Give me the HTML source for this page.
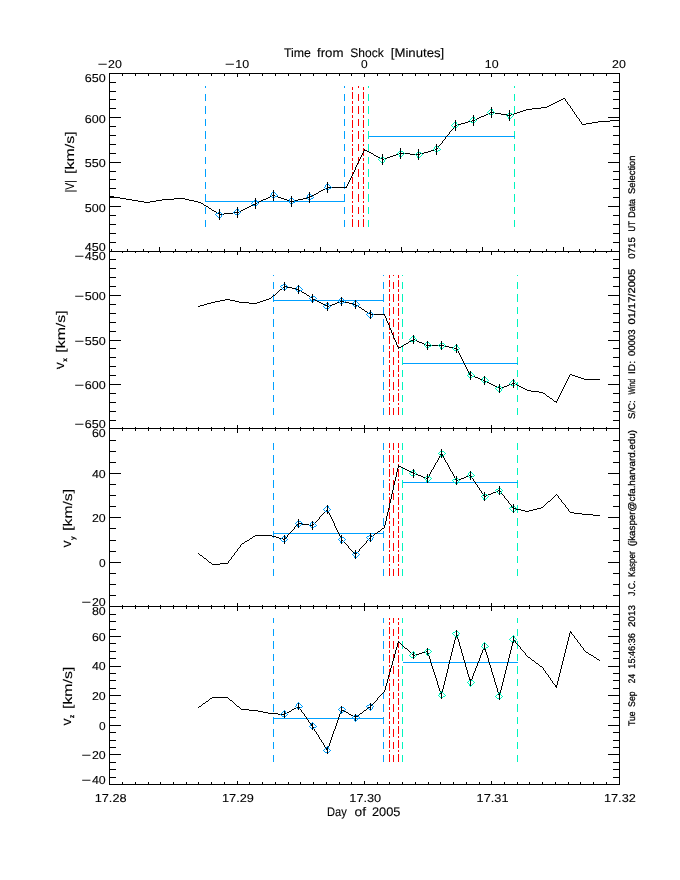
<!DOCTYPE html>
<html><head><meta charset="utf-8"><title>Shock velocity plot</title>
<style>html,body{margin:0;padding:0;background:#fff}svg{display:block;will-change:transform}text{white-space:pre;text-rendering:geometricPrecision}</style>
</head><body>
<svg width="680" height="880" viewBox="0 0 680 880">
<rect width="680" height="880" fill="#fff"/>
<g shape-rendering="crispEdges" stroke-width="1" fill="none">
<line x1="205.50" y1="227.00" x2="205.50" y2="86.00" stroke="#00A0FF" stroke-dasharray="7.5 5.1"/>
<line x1="344.50" y1="227.00" x2="344.50" y2="86.00" stroke="#00A0FF" stroke-dasharray="7.5 5.1"/>
<line x1="352.50" y1="227.00" x2="352.50" y2="86.00" stroke="#FF0000" stroke-dasharray="7.6 2 2.6 2"/>
<line x1="358.50" y1="227.00" x2="358.50" y2="86.00" stroke="#FF0000" stroke-dasharray="7.5 5.1"/>
<line x1="363.50" y1="227.00" x2="363.50" y2="86.00" stroke="#FF0000" stroke-dasharray="7.6 2 2.6 2"/>
<line x1="368.50" y1="227.00" x2="368.50" y2="86.00" stroke="#00F5BE" stroke-dasharray="7.5 5.1"/>
<line x1="514.50" y1="227.00" x2="514.50" y2="86.00" stroke="#00F5BE" stroke-dasharray="7.5 5.1"/>
<line x1="205.50" y1="201.50" x2="344.50" y2="201.50" stroke="#00A0FF" />
<line x1="368.50" y1="136.50" x2="514.50" y2="136.50" stroke="#00A0FF" />
<path d="M114 197h6v1h-6zM268 197h2v1h-2zM278 197h3v1h-3zM307 197h3v1h-3zM371 153h2v1h-2zM399 153h11v1h-11zM420 153h4v1h-4zM206 206h2v1h-2zM249 206h2v1h-2zM327 187h20v1h-20zM486 114h2v1h-2zM501 114h6v1h-6zM511 114h3v1h-3zM520 111h3v1h-3zM126 199h6v1h-6zM162 199h12v1h-12zM185 199h4v1h-4zM263 199h3v1h-3zM284 199h3v1h-3zM298 199h5v1h-5zM380 158h2v1h-2zM384 158h3v1h-3zM120 198h6v1h-6zM174 198h11v1h-11zM266 198h2v1h-2zM281 198h3v1h-3zM303 198h4v1h-4zM233 212h6v1h-6zM457 124h4v1h-4zM582 124h4v1h-4zM138 201h6v1h-6zM150 201h6v1h-6zM194 201h4v1h-4zM259 201h2v1h-2zM290 201h4v1h-4zM217 213h2v1h-2zM224 213h9v1h-9zM472 120h3v1h-3zM610 120h9v1h-9zM547 106h2v1h-2zM490 112h5v1h-5zM517 112h3v1h-3zM321 190h2v1h-2zM110 196h4v1h-4zM270 196h2v1h-2zM275 196h3v1h-3zM310 196h2v1h-2zM378 157h2v1h-2zM387 157h3v1h-3zM272 195h3v1h-3zM312 195h2v1h-2zM555 102h2v1h-2zM541 107h6v1h-6zM465 122h3v1h-3zM592 122h6v1h-6zM484 115h2v1h-2zM507 115h4v1h-4zM477 118h2v1h-2zM132 200h6v1h-6zM156 200h6v1h-6zM189 200h5v1h-5zM261 200h2v1h-2zM287 200h3v1h-3zM294 200h4v1h-4zM382 159h2v1h-2zM364 150h3v1h-3zM431 150h4v1h-4zM209 208h2v1h-2zM245 208h2v1h-2zM557 101h2v1h-2zM214 211h2v1h-2zM239 211h2v1h-2zM481 116h3v1h-3zM144 202h6v1h-6zM198 202h3v1h-3zM257 202h2v1h-2zM488 113h2v1h-2zM495 113h6v1h-6zM514 113h3v1h-3zM468 121h4v1h-4zM598 121h12v1h-12zM201 203h2v1h-2zM255 203h2v1h-2zM369 152h2v1h-2zM424 152h4v1h-4zM374 155h2v1h-2zM393 155h3v1h-3zM455 125h2v1h-2zM396 154h3v1h-3zM410 154h10v1h-10zM526 109h6v1h-6zM219 214h5v1h-5zM212 210h2v1h-2zM241 210h2v1h-2zM553 103h2v1h-2zM532 108h9v1h-9zM461 123h4v1h-4zM586 123h6v1h-6zM367 151h2v1h-2zM428 151h3v1h-3zM204 205h2v1h-2zM251 205h2v1h-2zM323 189h2v1h-2zM549 105h2v1h-2zM243 209h2v1h-2zM523 110h3v1h-3zM247 207h2v1h-2zM319 191h2v1h-2zM316 193h2v1h-2zM325 188h2v1h-2zM561 99h2v1h-2zM253 204h2v1h-2zM376 156h2v1h-2zM390 156h3v1h-3zM314 194h2v1h-2zM435 149h2v1h-2zM563 98h2v1h-2zM479 117h2v1h-2zM475 119h2v1h-2zM559 100h2v1h-2zM551 104h2v1h-2zM362 153h1v2h-1zM452 129h1v1h-1zM575 114h1v1h-1zM573 111h1v1h-1zM360 157h1v2h-1zM444 139h1v1h-1zM216 212h1v1h-1zM579 119h1v2h-1zM570 106h1v2h-1zM574 112h1v2h-1zM567 102h1v2h-1zM356 165h1v2h-1zM581 122h1v2h-1zM576 115h1v2h-1zM578 118h1v1h-1zM359 159h1v2h-1zM355 167h1v3h-1zM566 101h1v1h-1zM580 121h1v1h-1zM447 135h1v1h-1zM351 176h1v2h-1zM363 151h1v2h-1zM361 155h1v2h-1zM373 154h1v1h-1zM572 109h1v2h-1zM571 108h1v1h-1zM569 105h1v1h-1zM211 209h1v1h-1zM350 178h1v2h-1zM438 146h1v2h-1zM208 207h1v1h-1zM354 170h1v2h-1zM454 126h1v1h-1zM565 99h1v2h-1zM203 204h1v1h-1zM446 136h1v1h-1zM449 132h1v2h-1zM353 172h1v2h-1zM358 161h1v2h-1zM349 180h1v2h-1zM348 182h1v2h-1zM445 137h1v2h-1zM318 192h1v1h-1zM352 174h1v2h-1zM364 149h1v1h-1zM437 148h1v1h-1zM440 144h1v1h-1zM453 127h1v2h-1zM448 134h1v1h-1zM577 117h1v1h-1zM443 140h1v1h-1zM451 130h1v1h-1zM568 104h1v1h-1zM347 184h1v2h-1zM442 141h1v2h-1zM439 145h1v1h-1zM357 163h1v2h-1zM450 131h1v1h-1zM346 186h1v1h-1zM441 143h1v1h-1z" fill="#000" stroke="none"/>
<path d="M215 214h1v1h-1zM216 213h1v1h-1zM216 215h1v1h-1zM217 213h1v1h-1zM217 216h1v1h-1zM218 212h1v1h-1zM218 217h1v1h-1zM219 211h1v1h-1zM219 218h1v1h-1zM220 212h1v1h-1zM220 217h1v1h-1zM221 213h1v1h-1zM221 215h1v1h-1zM221 216h1v1h-1zM222 214h1v1h-1z" fill="#00A0FF" stroke="none"/>
<path d="M233 212h1v1h-1zM234 211h1v1h-1zM234 213h1v1h-1zM235 210h1v1h-1zM235 214h1v1h-1zM236 209h1v1h-1zM236 214h1v1h-1zM237 208h1v1h-1zM237 215h1v1h-1zM238 209h1v1h-1zM238 210h1v1h-1zM238 214h1v1h-1zM239 211h1v1h-1zM239 213h1v1h-1zM240 212h1v1h-1z" fill="#00A0FF" stroke="none"/>
<path d="M251 203h1v1h-1zM252 202h1v1h-1zM252 204h1v1h-1zM253 201h1v1h-1zM253 205h1v1h-1zM254 200h1v1h-1zM254 205h1v1h-1zM255 199h1v1h-1zM255 206h1v1h-1zM256 200h1v1h-1zM256 201h1v1h-1zM256 205h1v1h-1zM257 202h1v1h-1zM257 204h1v1h-1zM258 203h1v1h-1z" fill="#00A0FF" stroke="none"/>
<path d="M270 195h1v1h-1zM271 193h1v1h-1zM271 194h1v1h-1zM271 196h1v1h-1zM272 192h1v1h-1zM272 197h1v1h-1zM273 191h1v1h-1zM273 198h1v1h-1zM274 192h1v1h-1zM274 197h1v1h-1zM275 193h1v1h-1zM275 196h1v1h-1zM276 194h1v1h-1zM276 196h1v1h-1zM277 195h1v1h-1z" fill="#00A0FF" stroke="none"/>
<path d="M288 201h1v1h-1zM289 199h1v1h-1zM289 200h1v1h-1zM289 202h1v1h-1zM290 198h1v1h-1zM290 203h1v1h-1zM291 197h1v1h-1zM291 204h1v1h-1zM292 198h1v1h-1zM292 203h1v1h-1zM293 199h1v1h-1zM293 202h1v1h-1zM294 200h1v1h-1zM294 202h1v1h-1zM295 201h1v1h-1z" fill="#00A0FF" stroke="none"/>
<path d="M306 197h1v1h-1zM307 195h1v1h-1zM307 196h1v1h-1zM307 198h1v1h-1zM308 194h1v1h-1zM308 199h1v1h-1zM309 193h1v1h-1zM309 200h1v1h-1zM310 194h1v1h-1zM310 199h1v1h-1zM311 195h1v1h-1zM311 198h1v1h-1zM312 196h1v1h-1zM312 198h1v1h-1zM313 197h1v1h-1z" fill="#00A0FF" stroke="none"/>
<path d="M324 187h1v1h-1zM325 185h1v1h-1zM325 186h1v1h-1zM325 188h1v1h-1zM326 184h1v1h-1zM326 189h1v1h-1zM327 183h1v1h-1zM327 190h1v1h-1zM328 184h1v1h-1zM328 189h1v1h-1zM329 185h1v1h-1zM329 188h1v1h-1zM330 186h1v1h-1zM330 188h1v1h-1zM331 187h1v1h-1z" fill="#00A0FF" stroke="none"/>
<path d="M378 159h1v1h-1zM379 158h1v1h-1zM379 160h1v1h-1zM380 158h1v1h-1zM380 161h1v1h-1zM381 157h1v1h-1zM381 162h1v1h-1zM382 156h1v1h-1zM382 163h1v1h-1zM383 157h1v1h-1zM383 162h1v1h-1zM384 158h1v1h-1zM384 160h1v1h-1zM384 161h1v1h-1zM385 159h1v1h-1z" fill="#00F5BE" stroke="none"/>
<path d="M397 153h1v1h-1zM398 152h1v1h-1zM398 154h1v1h-1zM399 151h1v1h-1zM399 155h1v1h-1zM399 156h1v1h-1zM400 150h1v1h-1zM400 157h1v1h-1zM401 151h1v1h-1zM401 156h1v1h-1zM402 151h1v1h-1zM402 155h1v1h-1zM403 152h1v1h-1zM403 154h1v1h-1zM404 153h1v1h-1z" fill="#00F5BE" stroke="none"/>
<path d="M415 154h1v1h-1zM416 153h1v1h-1zM416 155h1v1h-1zM417 152h1v1h-1zM417 156h1v1h-1zM417 157h1v1h-1zM418 151h1v1h-1zM418 158h1v1h-1zM419 152h1v1h-1zM419 157h1v1h-1zM420 152h1v1h-1zM420 156h1v1h-1zM421 153h1v1h-1zM421 155h1v1h-1zM422 154h1v1h-1z" fill="#00F5BE" stroke="none"/>
<path d="M433 149h1v1h-1zM434 147h1v1h-1zM434 148h1v1h-1zM434 150h1v1h-1zM435 146h1v1h-1zM435 151h1v1h-1zM436 145h1v1h-1zM436 152h1v1h-1zM437 146h1v1h-1zM437 151h1v1h-1zM438 147h1v1h-1zM438 150h1v1h-1zM439 148h1v1h-1zM439 150h1v1h-1zM440 149h1v1h-1z" fill="#00F5BE" stroke="none"/>
<path d="M451 125h1v1h-1zM452 124h1v1h-1zM452 126h1v1h-1zM453 123h1v1h-1zM453 127h1v1h-1zM454 122h1v1h-1zM454 127h1v1h-1zM455 121h1v1h-1zM455 128h1v1h-1zM456 122h1v1h-1zM456 123h1v1h-1zM456 127h1v1h-1zM457 124h1v1h-1zM457 126h1v1h-1zM458 125h1v1h-1z" fill="#00F5BE" stroke="none"/>
<path d="M469 120h1v1h-1zM470 119h1v1h-1zM470 121h1v1h-1zM471 118h1v1h-1zM471 122h1v1h-1zM472 117h1v1h-1zM472 122h1v1h-1zM473 116h1v1h-1zM473 123h1v1h-1zM474 117h1v1h-1zM474 118h1v1h-1zM474 122h1v1h-1zM475 119h1v1h-1zM475 121h1v1h-1zM476 120h1v1h-1z" fill="#00F5BE" stroke="none"/>
<path d="M487 112h1v1h-1zM488 111h1v1h-1zM488 113h1v1h-1zM489 110h1v1h-1zM489 114h1v1h-1zM490 109h1v1h-1zM490 114h1v1h-1zM491 108h1v1h-1zM491 115h1v1h-1zM492 109h1v1h-1zM492 110h1v1h-1zM492 114h1v1h-1zM493 111h1v1h-1zM493 113h1v1h-1zM494 112h1v1h-1z" fill="#00F5BE" stroke="none"/>
<path d="M506 115h1v1h-1zM507 114h1v1h-1zM507 116h1v1h-1zM508 113h1v1h-1zM508 117h1v1h-1zM508 118h1v1h-1zM509 112h1v1h-1zM509 119h1v1h-1zM510 113h1v1h-1zM510 118h1v1h-1zM511 113h1v1h-1zM511 117h1v1h-1zM512 114h1v1h-1zM512 116h1v1h-1zM513 115h1v1h-1z" fill="#00F5BE" stroke="none"/>
<line x1="219.50" y1="208.70" x2="219.50" y2="220.30" stroke="#000" />
<line x1="237.50" y1="206.70" x2="237.50" y2="218.30" stroke="#000" />
<line x1="255.50" y1="197.70" x2="255.50" y2="209.30" stroke="#000" />
<line x1="273.50" y1="189.70" x2="273.50" y2="201.30" stroke="#000" />
<line x1="291.50" y1="195.70" x2="291.50" y2="207.30" stroke="#000" />
<line x1="309.50" y1="191.70" x2="309.50" y2="203.30" stroke="#000" />
<line x1="327.50" y1="181.70" x2="327.50" y2="193.30" stroke="#000" />
<line x1="382.50" y1="153.70" x2="382.50" y2="165.30" stroke="#000" />
<line x1="400.50" y1="147.70" x2="400.50" y2="159.30" stroke="#000" />
<line x1="418.50" y1="148.70" x2="418.50" y2="160.30" stroke="#000" />
<line x1="436.50" y1="143.70" x2="436.50" y2="155.30" stroke="#000" />
<line x1="455.50" y1="119.70" x2="455.50" y2="131.30" stroke="#000" />
<line x1="473.50" y1="114.70" x2="473.50" y2="126.30" stroke="#000" />
<line x1="491.50" y1="106.70" x2="491.50" y2="118.30" stroke="#000" />
<line x1="509.50" y1="109.70" x2="509.50" y2="121.30" stroke="#000" />
<line x1="273.50" y1="415.00" x2="273.50" y2="275.00" stroke="#00A0FF" stroke-dasharray="7.5 5.1"/>
<line x1="383.50" y1="415.00" x2="383.50" y2="275.00" stroke="#00A0FF" stroke-dasharray="7.5 5.1"/>
<line x1="389.00" y1="415.00" x2="389.00" y2="275.00" stroke="#FF0000" stroke-dasharray="7.6 2 2.6 2"/>
<line x1="393.50" y1="415.00" x2="393.50" y2="275.00" stroke="#FF0000" stroke-dasharray="7.5 5.1"/>
<line x1="398.50" y1="415.00" x2="398.50" y2="275.00" stroke="#FF0000" stroke-dasharray="7.6 2 2.6 2"/>
<line x1="402.50" y1="415.00" x2="402.50" y2="275.00" stroke="#00F5BE" stroke-dasharray="7.5 5.1"/>
<line x1="517.50" y1="415.00" x2="517.50" y2="275.00" stroke="#00F5BE" stroke-dasharray="7.5 5.1"/>
<line x1="273.50" y1="300.50" x2="383.50" y2="300.50" stroke="#00A0FF" />
<line x1="402.50" y1="363.50" x2="517.50" y2="363.50" stroke="#00A0FF" />
<path d="M207 303h4v1h-4zM249 303h8v1h-8zM321 303h2v1h-2zM335 303h2v1h-2zM349 303h4v1h-4zM411 340h2v1h-2zM415 340h2v1h-2zM478 378h2v1h-2zM581 378h3v1h-3zM370 314h15v1h-15zM215 301h5v1h-5zM235 301h4v1h-4zM260 301h3v1h-3zM317 301h2v1h-2zM340 301h4v1h-4zM220 300h5v1h-5zM230 300h5v1h-5zM263 300h3v1h-3zM315 300h2v1h-2zM200 305h4v1h-4zM325 305h2v1h-2zM329 305h3v1h-3zM356 305h2v1h-2zM554 401h3v1h-3zM550 398h2v1h-2zM225 299h5v1h-5zM266 299h3v1h-3zM313 299h2v1h-2zM204 304h3v1h-3zM323 304h2v1h-2zM332 304h3v1h-3zM353 304h3v1h-3zM398 347h3v1h-3zM449 347h5v1h-5zM480 379h3v1h-3zM584 379h16v1h-16zM419 342h3v1h-3zM211 302h4v1h-4zM239 302h10v1h-10zM257 302h3v1h-3zM319 302h2v1h-2zM337 302h3v1h-3zM344 302h5v1h-5zM475 377h3v1h-3zM578 377h3v1h-3zM287 287h5v1h-5zM426 345h18v1h-18zM292 288h4v1h-4zM401 346h2v1h-2zM444 346h5v1h-5zM491 384h2v1h-2zM509 384h3v1h-3zM515 384h2v1h-2zM302 292h2v1h-2zM470 375h2v1h-2zM572 375h3v1h-3zM299 290h2v1h-2zM472 376h3v1h-3zM575 376h3v1h-3zM497 387h2v1h-2zM501 387h3v1h-3zM521 387h2v1h-2zM499 388h2v1h-2zM523 388h2v1h-2zM527 390h4v1h-4zM368 313h2v1h-2zM531 391h8v1h-8zM280 289h2v1h-2zM296 289h3v1h-3zM493 385h2v1h-2zM507 385h2v1h-2zM517 385h2v1h-2zM409 341h2v1h-2zM417 341h2v1h-2zM406 343h2v1h-2zM422 343h2v1h-2zM485 381h2v1h-2zM413 339h2v1h-2zM495 386h2v1h-2zM504 386h3v1h-3zM519 386h2v1h-2zM198 306h2v1h-2zM327 306h2v1h-2zM404 344h2v1h-2zM424 344h2v1h-2zM489 383h2v1h-2zM512 383h3v1h-3zM304 293h2v1h-2zM273 295h2v1h-2zM307 295h2v1h-2zM454 348h3v1h-3zM362 309h2v1h-2zM539 392h4v1h-4zM365 311h2v1h-2zM284 286h3v1h-3zM525 389h2v1h-2zM269 298h2v1h-2zM310 297h2v1h-2zM483 380h2v1h-2zM570 374h2v1h-2zM487 382h2v1h-2zM547 396h2v1h-2zM359 307h2v1h-2zM543 393h2v1h-2zM395 340h1v2h-1zM393 335h1v3h-1zM546 395h1v1h-1zM559 395h1v2h-1zM568 377h1v2h-1zM389 325h1v3h-1zM464 363h1v2h-1zM558 397h1v2h-1zM385 316h1v2h-1zM386 318h1v3h-1zM567 379h1v2h-1zM396 342h1v3h-1zM408 342h1v1h-1zM275 294h1v1h-1zM306 294h1v1h-1zM283 287h1v1h-1zM397 345h1v2h-1zM403 345h1v1h-1zM467 369h1v2h-1zM282 288h1v1h-1zM565 383h1v2h-1zM277 292h1v1h-1zM569 375h1v2h-1zM279 290h1v1h-1zM392 333h1v2h-1zM563 387h1v2h-1zM549 397h1v1h-1zM272 296h1v1h-1zM309 296h1v1h-1zM562 389h1v2h-1zM561 391h1v2h-1zM564 385h1v2h-1zM566 381h1v2h-1zM394 338h1v2h-1zM463 361h1v2h-1zM466 367h1v2h-1zM358 306h1v1h-1zM460 355h1v2h-1zM276 293h1v1h-1zM391 330h1v3h-1zM553 400h1v1h-1zM557 399h1v2h-1zM398 348h1v1h-1zM545 394h1v1h-1zM560 393h1v2h-1zM384 315h1v1h-1zM459 353h1v2h-1zM361 308h1v1h-1zM462 359h1v2h-1zM312 298h1v1h-1zM390 328h1v2h-1zM278 291h1v1h-1zM301 291h1v1h-1zM271 297h1v1h-1zM458 351h1v2h-1zM461 357h1v2h-1zM469 373h1v2h-1zM457 349h1v2h-1zM367 312h1v1h-1zM552 399h1v1h-1zM388 323h1v2h-1zM556 402h1v1h-1zM387 321h1v2h-1zM364 310h1v1h-1zM468 371h1v2h-1zM465 365h1v2h-1z" fill="#000" stroke="none"/>
<path d="M280 286h1v1h-1zM281 285h1v1h-1zM281 287h1v1h-1zM282 285h1v1h-1zM282 288h1v1h-1zM283 284h1v1h-1zM283 289h1v1h-1zM284 283h1v1h-1zM284 290h1v1h-1zM285 284h1v1h-1zM285 289h1v1h-1zM286 285h1v1h-1zM286 287h1v1h-1zM286 288h1v1h-1zM287 286h1v1h-1z" fill="#00A0FF" stroke="none"/>
<path d="M295 289h1v1h-1zM296 287h1v1h-1zM296 288h1v1h-1zM296 290h1v1h-1zM297 286h1v1h-1zM297 291h1v1h-1zM298 285h1v1h-1zM298 292h1v1h-1zM299 286h1v1h-1zM299 291h1v1h-1zM300 287h1v1h-1zM300 290h1v1h-1zM301 288h1v1h-1zM301 290h1v1h-1zM302 289h1v1h-1z" fill="#00A0FF" stroke="none"/>
<path d="M309 298h1v1h-1zM310 297h1v1h-1zM310 299h1v1h-1zM311 296h1v1h-1zM311 300h1v1h-1zM311 301h1v1h-1zM312 295h1v1h-1zM312 302h1v1h-1zM313 296h1v1h-1zM313 301h1v1h-1zM314 296h1v1h-1zM314 300h1v1h-1zM315 297h1v1h-1zM315 299h1v1h-1zM316 298h1v1h-1z" fill="#00A0FF" stroke="none"/>
<path d="M323 306h1v1h-1zM324 305h1v1h-1zM324 307h1v1h-1zM325 304h1v1h-1zM325 308h1v1h-1zM326 303h1v1h-1zM326 308h1v1h-1zM327 302h1v1h-1zM327 309h1v1h-1zM328 303h1v1h-1zM328 304h1v1h-1zM328 308h1v1h-1zM329 305h1v1h-1zM329 307h1v1h-1zM330 306h1v1h-1z" fill="#00A0FF" stroke="none"/>
<path d="M338 301h1v1h-1zM339 299h1v1h-1zM339 300h1v1h-1zM339 302h1v1h-1zM340 298h1v1h-1zM340 303h1v1h-1zM341 297h1v1h-1zM341 304h1v1h-1zM342 298h1v1h-1zM342 303h1v1h-1zM343 299h1v1h-1zM343 302h1v1h-1zM344 300h1v1h-1zM344 302h1v1h-1zM345 301h1v1h-1z" fill="#00A0FF" stroke="none"/>
<path d="M352 304h1v1h-1zM353 302h1v1h-1zM353 303h1v1h-1zM353 305h1v1h-1zM354 301h1v1h-1zM354 306h1v1h-1zM355 300h1v1h-1zM355 307h1v1h-1zM356 301h1v1h-1zM356 306h1v1h-1zM357 302h1v1h-1zM357 305h1v1h-1zM358 303h1v1h-1zM358 305h1v1h-1zM359 304h1v1h-1z" fill="#00A0FF" stroke="none"/>
<path d="M366 314h1v1h-1zM367 313h1v1h-1zM367 315h1v1h-1zM368 313h1v1h-1zM368 316h1v1h-1zM369 312h1v1h-1zM369 317h1v1h-1zM370 311h1v1h-1zM370 318h1v1h-1zM371 312h1v1h-1zM371 317h1v1h-1zM372 313h1v1h-1zM372 315h1v1h-1zM372 316h1v1h-1zM373 314h1v1h-1z" fill="#00A0FF" stroke="none"/>
<path d="M409 339h1v1h-1zM410 338h1v1h-1zM410 340h1v1h-1zM411 337h1v1h-1zM411 341h1v1h-1zM412 336h1v1h-1zM412 341h1v1h-1zM413 335h1v1h-1zM413 342h1v1h-1zM414 336h1v1h-1zM414 337h1v1h-1zM414 341h1v1h-1zM415 338h1v1h-1zM415 340h1v1h-1zM416 339h1v1h-1z" fill="#00F5BE" stroke="none"/>
<path d="M424 345h1v1h-1zM425 343h1v1h-1zM425 344h1v1h-1zM425 346h1v1h-1zM426 342h1v1h-1zM426 347h1v1h-1zM427 341h1v1h-1zM427 348h1v1h-1zM428 342h1v1h-1zM428 347h1v1h-1zM429 343h1v1h-1zM429 346h1v1h-1zM430 344h1v1h-1zM430 346h1v1h-1zM431 345h1v1h-1z" fill="#00F5BE" stroke="none"/>
<path d="M438 345h1v1h-1zM439 344h1v1h-1zM439 346h1v1h-1zM440 343h1v1h-1zM440 347h1v1h-1zM440 348h1v1h-1zM441 342h1v1h-1zM441 349h1v1h-1zM442 343h1v1h-1zM442 348h1v1h-1zM443 343h1v1h-1zM443 347h1v1h-1zM444 344h1v1h-1zM444 346h1v1h-1zM445 345h1v1h-1z" fill="#00F5BE" stroke="none"/>
<path d="M452 348h1v1h-1zM453 347h1v1h-1zM453 349h1v1h-1zM454 346h1v1h-1zM454 350h1v1h-1zM455 345h1v1h-1zM455 350h1v1h-1zM456 344h1v1h-1zM456 351h1v1h-1zM457 345h1v1h-1zM457 346h1v1h-1zM457 350h1v1h-1zM458 347h1v1h-1zM458 349h1v1h-1zM459 348h1v1h-1z" fill="#00F5BE" stroke="none"/>
<path d="M467 375h1v1h-1zM468 373h1v1h-1zM468 374h1v1h-1zM468 376h1v1h-1zM469 372h1v1h-1zM469 377h1v1h-1zM470 371h1v1h-1zM470 378h1v1h-1zM471 372h1v1h-1zM471 377h1v1h-1zM472 373h1v1h-1zM472 376h1v1h-1zM473 374h1v1h-1zM473 376h1v1h-1zM474 375h1v1h-1z" fill="#00F5BE" stroke="none"/>
<path d="M481 380h1v1h-1zM482 378h1v1h-1zM482 379h1v1h-1zM482 381h1v1h-1zM483 377h1v1h-1zM483 382h1v1h-1zM484 376h1v1h-1zM484 383h1v1h-1zM485 377h1v1h-1zM485 382h1v1h-1zM486 378h1v1h-1zM486 381h1v1h-1zM487 379h1v1h-1zM487 381h1v1h-1zM488 380h1v1h-1z" fill="#00F5BE" stroke="none"/>
<path d="M495 388h1v1h-1zM496 387h1v1h-1zM496 389h1v1h-1zM497 387h1v1h-1zM497 390h1v1h-1zM498 386h1v1h-1zM498 391h1v1h-1zM499 385h1v1h-1zM499 392h1v1h-1zM500 386h1v1h-1zM500 391h1v1h-1zM501 387h1v1h-1zM501 389h1v1h-1zM501 390h1v1h-1zM502 388h1v1h-1z" fill="#00F5BE" stroke="none"/>
<path d="M509 383h1v1h-1zM510 382h1v1h-1zM510 384h1v1h-1zM511 381h1v1h-1zM511 385h1v1h-1zM512 380h1v1h-1zM512 385h1v1h-1zM513 379h1v1h-1zM513 386h1v1h-1zM514 380h1v1h-1zM514 381h1v1h-1zM514 385h1v1h-1zM515 382h1v1h-1zM515 384h1v1h-1zM516 383h1v1h-1z" fill="#00F5BE" stroke="none"/>
<line x1="284.50" y1="282.00" x2="284.50" y2="291.00" stroke="#000" />
<line x1="298.50" y1="285.00" x2="298.50" y2="294.00" stroke="#000" />
<line x1="312.50" y1="294.00" x2="312.50" y2="303.00" stroke="#000" />
<line x1="327.50" y1="302.00" x2="327.50" y2="311.00" stroke="#000" />
<line x1="341.50" y1="297.00" x2="341.50" y2="306.00" stroke="#000" />
<line x1="355.50" y1="300.00" x2="355.50" y2="309.00" stroke="#000" />
<line x1="370.50" y1="310.00" x2="370.50" y2="319.00" stroke="#000" />
<line x1="413.50" y1="335.00" x2="413.50" y2="344.00" stroke="#000" />
<line x1="427.50" y1="341.00" x2="427.50" y2="350.00" stroke="#000" />
<line x1="441.50" y1="341.00" x2="441.50" y2="350.00" stroke="#000" />
<line x1="456.50" y1="344.00" x2="456.50" y2="353.00" stroke="#000" />
<line x1="470.50" y1="371.00" x2="470.50" y2="380.00" stroke="#000" />
<line x1="484.50" y1="376.00" x2="484.50" y2="385.00" stroke="#000" />
<line x1="499.50" y1="384.00" x2="499.50" y2="393.00" stroke="#000" />
<line x1="513.50" y1="379.00" x2="513.50" y2="388.00" stroke="#000" />
<line x1="273.50" y1="576.00" x2="273.50" y2="443.00" stroke="#00A0FF" stroke-dasharray="7.5 5.1"/>
<line x1="383.50" y1="576.00" x2="383.50" y2="443.00" stroke="#00A0FF" stroke-dasharray="7.5 5.1"/>
<line x1="389.00" y1="576.00" x2="389.00" y2="443.00" stroke="#FF0000" stroke-dasharray="7.6 2 2.6 2"/>
<line x1="393.50" y1="576.00" x2="393.50" y2="443.00" stroke="#FF0000" stroke-dasharray="7.5 5.1"/>
<line x1="398.50" y1="576.00" x2="398.50" y2="443.00" stroke="#FF0000" stroke-dasharray="7.6 2 2.6 2"/>
<line x1="402.50" y1="576.00" x2="402.50" y2="443.00" stroke="#00F5BE" stroke-dasharray="7.5 5.1"/>
<line x1="517.50" y1="576.00" x2="517.50" y2="443.00" stroke="#00F5BE" stroke-dasharray="7.5 5.1"/>
<line x1="273.50" y1="533.50" x2="383.50" y2="533.50" stroke="#00A0FF" />
<line x1="402.50" y1="482.50" x2="517.50" y2="482.50" stroke="#00A0FF" />
<path d="M491 493h2v1h-2zM423 477h3v1h-3zM464 477h2v1h-2zM403 468h2v1h-2zM204 558h2v1h-2zM309 525h4v1h-4zM593 515h7v1h-7zM407 470h2v1h-2zM513 508h3v1h-3zM537 508h4v1h-4zM302 524h7v1h-7zM255 535h17v1h-17zM488 494h3v1h-3zM378 531h2v1h-2zM253 536h2v1h-2zM272 536h4v1h-4zM371 536h2v1h-2zM574 513h8v1h-8zM245 541h2v1h-2zM382 528h2v1h-2zM276 537h3v1h-3zM421 476h2v1h-2zM466 476h3v1h-3zM250 538h2v1h-2zM279 538h4v1h-4zM418 475h3v1h-3zM469 475h2v1h-2zM486 495h2v1h-2zM212 564h8v1h-8zM516 509h5v1h-5zM533 509h4v1h-4zM458 479h3v1h-3zM493 492h3v1h-3zM548 501h2v1h-2zM413 473h2v1h-2zM570 512h4v1h-4zM582 514h11v1h-11zM220 563h8v1h-8zM326 510h2v1h-2zM521 510h4v1h-4zM529 510h4v1h-4zM298 523h4v1h-4zM375 533h2v1h-2zM484 496h2v1h-2zM242 543h2v1h-2zM398 466h3v1h-3zM283 539h2v1h-2zM200 555h2v1h-2zM456 480h2v1h-2zM415 474h3v1h-3zM426 478h2v1h-2zM461 478h3v1h-3zM496 491h2v1h-2zM401 467h2v1h-2zM498 490h2v1h-2zM409 471h2v1h-2zM209 562h2v1h-2zM411 472h2v1h-2zM525 511h4v1h-4zM405 469h2v1h-2zM541 507h2v1h-2zM247 540h2v1h-2zM392 490h1v4h-1zM482 493h1v1h-1zM501 492h1v2h-1zM395 477h1v4h-1zM428 476h1v2h-1zM454 476h1v2h-1zM471 476h1v2h-1zM397 468h1v4h-1zM433 467h1v2h-1zM449 467h1v2h-1zM203 557h1v1h-1zM231 557h1v2h-1zM296 525h1v1h-1zM334 523h1v3h-1zM384 525h1v3h-1zM321 515h1v1h-1zM330 515h1v2h-1zM387 512h1v4h-1zM431 470h1v2h-1zM450 469h1v2h-1zM388 508h1v4h-1zM567 508h1v1h-1zM297 524h1v1h-1zM313 524h1v1h-1zM385 521h1v4h-1zM287 535h1v2h-1zM339 534h1v2h-1zM373 535h1v1h-1zM391 494h1v5h-1zM483 494h1v2h-1zM502 494h1v1h-1zM556 494h1v1h-1zM291 531h1v1h-1zM337 530h1v2h-1zM505 498h1v1h-1zM552 498h1v1h-1zM559 498h1v1h-1zM340 536h1v2h-1zM323 513h1v1h-1zM329 513h1v2h-1zM343 541h1v1h-1zM366 541h1v2h-1zM294 527h1v2h-1zM336 528h1v2h-1zM390 499h1v4h-1zM506 499h1v1h-1zM551 499h1v1h-1zM560 499h1v1h-1zM252 537h1v1h-1zM286 537h1v1h-1zM370 537h1v1h-1zM396 472h1v5h-1zM439 456h1v2h-1zM443 456h1v2h-1zM285 538h1v1h-1zM341 538h1v2h-1zM369 538h1v1h-1zM429 474h1v2h-1zM453 474h1v2h-1zM503 495h1v1h-1zM555 495h1v1h-1zM557 495h1v1h-1zM198 553h1v1h-1zM234 553h1v2h-1zM354 553h1v1h-1zM356 553h1v1h-1zM327 509h1v1h-1zM568 509h1v2h-1zM239 547h1v1h-1zM348 546h1v2h-1zM361 547h1v1h-1zM455 478h1v2h-1zM473 479h1v2h-1zM481 491h1v2h-1zM438 458h1v2h-1zM444 458h1v2h-1zM508 501h1v2h-1zM561 500h1v2h-1zM315 522h1v1h-1zM333 521h1v2h-1zM430 472h1v2h-1zM452 472h1v2h-1zM238 548h1v1h-1zM349 548h1v1h-1zM360 548h1v1h-1zM324 512h1v1h-1zM328 511h1v2h-1zM322 514h1v1h-1zM211 563h1v1h-1zM314 523h1v1h-1zM289 533h1v1h-1zM338 532h1v2h-1zM504 496h1v2h-1zM554 496h1v1h-1zM558 496h1v2h-1zM199 554h1v1h-1zM355 554h1v1h-1zM345 543h1v1h-1zM365 543h1v1h-1zM434 465h1v2h-1zM448 465h1v2h-1zM249 539h1v1h-1zM368 539h1v1h-1zM233 555h1v1h-1zM237 549h1v2h-1zM350 549h1v1h-1zM359 549h1v2h-1zM240 545h1v2h-1zM347 545h1v1h-1zM363 545h1v1h-1zM318 519h1v1h-1zM332 519h1v2h-1zM386 516h1v5h-1zM292 530h1v1h-1zM380 530h1v1h-1zM295 526h1v1h-1zM335 526h1v2h-1zM437 460h1v2h-1zM445 460h1v2h-1zM362 546h1v1h-1zM472 478h1v1h-1zM436 462h1v1h-1zM446 462h1v1h-1zM500 491h1v1h-1zM320 516h1v1h-1zM398 465h1v1h-1zM398 467h1v1h-1zM316 521h1v1h-1zM480 490h1v1h-1zM547 502h1v1h-1zM562 502h1v1h-1zM553 497h1v1h-1zM451 471h1v1h-1zM206 559h1v1h-1zM230 559h1v1h-1zM228 561h1v2h-1zM319 517h1v2h-1zM331 517h1v2h-1zM389 503h1v5h-1zM509 503h1v1h-1zM546 503h1v1h-1zM563 503h1v1h-1zM507 500h1v1h-1zM550 500h1v1h-1zM236 551h1v1h-1zM352 551h1v1h-1zM358 551h1v1h-1zM325 511h1v1h-1zM569 511h1v1h-1zM288 534h1v1h-1zM374 534h1v1h-1zM441 453h1v1h-1zM511 505h1v2h-1zM544 505h1v1h-1zM565 505h1v2h-1zM235 552h1v1h-1zM353 552h1v1h-1zM357 552h1v1h-1zM394 481h1v4h-1zM474 481h1v1h-1zM435 463h1v2h-1zM447 463h1v2h-1zM476 484h1v1h-1zM393 485h1v5h-1zM479 488h1v2h-1zM477 485h1v2h-1zM432 469h1v1h-1zM440 454h1v2h-1zM442 454h1v2h-1zM512 507h1v1h-1zM566 507h1v1h-1zM510 504h1v1h-1zM545 504h1v1h-1zM564 504h1v1h-1zM342 540h1v1h-1zM367 540h1v1h-1zM478 487h1v1h-1zM241 544h1v1h-1zM346 544h1v1h-1zM364 544h1v1h-1zM475 482h1v2h-1zM290 532h1v1h-1zM377 532h1v1h-1zM543 506h1v1h-1zM351 550h1v1h-1zM207 560h1v1h-1zM229 560h1v1h-1zM293 529h1v1h-1zM381 529h1v1h-1zM244 542h1v1h-1zM344 542h1v1h-1zM317 520h1v1h-1zM202 556h1v1h-1zM232 556h1v1h-1zM208 561h1v1h-1z" fill="#000" stroke="none"/>
<path d="M280 539h1v1h-1zM281 538h1v1h-1zM281 540h1v1h-1zM282 537h1v1h-1zM282 541h1v1h-1zM283 536h1v1h-1zM283 541h1v1h-1zM284 535h1v1h-1zM284 542h1v1h-1zM285 536h1v1h-1zM285 537h1v1h-1zM285 541h1v1h-1zM286 538h1v1h-1zM286 540h1v1h-1zM287 539h1v1h-1z" fill="#00A0FF" stroke="none"/>
<path d="M295 523h1v1h-1zM296 522h1v1h-1zM296 524h1v1h-1zM297 521h1v1h-1zM297 525h1v1h-1zM297 526h1v1h-1zM298 520h1v1h-1zM298 527h1v1h-1zM299 521h1v1h-1zM299 526h1v1h-1zM300 521h1v1h-1zM300 525h1v1h-1zM301 522h1v1h-1zM301 524h1v1h-1zM302 523h1v1h-1z" fill="#00A0FF" stroke="none"/>
<path d="M309 525h1v1h-1zM310 523h1v1h-1zM310 524h1v1h-1zM310 526h1v1h-1zM311 522h1v1h-1zM311 527h1v1h-1zM312 521h1v1h-1zM312 528h1v1h-1zM313 522h1v1h-1zM313 527h1v1h-1zM314 523h1v1h-1zM314 526h1v1h-1zM315 524h1v1h-1zM315 526h1v1h-1zM316 525h1v1h-1z" fill="#00A0FF" stroke="none"/>
<path d="M323 509h1v1h-1zM324 508h1v1h-1zM324 510h1v1h-1zM325 507h1v1h-1zM325 511h1v1h-1zM326 506h1v1h-1zM326 511h1v1h-1zM327 505h1v1h-1zM327 512h1v1h-1zM328 506h1v1h-1zM328 507h1v1h-1zM328 511h1v1h-1zM329 508h1v1h-1zM329 510h1v1h-1zM330 509h1v1h-1z" fill="#00A0FF" stroke="none"/>
<path d="M338 539h1v1h-1zM339 538h1v1h-1zM339 540h1v1h-1zM340 537h1v1h-1zM340 541h1v1h-1zM340 542h1v1h-1zM341 536h1v1h-1zM341 543h1v1h-1zM342 537h1v1h-1zM342 542h1v1h-1zM343 537h1v1h-1zM343 541h1v1h-1zM344 538h1v1h-1zM344 540h1v1h-1zM345 539h1v1h-1z" fill="#00A0FF" stroke="none"/>
<path d="M352 554h1v1h-1zM353 553h1v1h-1zM353 555h1v1h-1zM354 552h1v1h-1zM354 556h1v1h-1zM354 557h1v1h-1zM355 551h1v1h-1zM355 558h1v1h-1zM356 552h1v1h-1zM356 557h1v1h-1zM357 552h1v1h-1zM357 556h1v1h-1zM358 553h1v1h-1zM358 555h1v1h-1zM359 554h1v1h-1z" fill="#00A0FF" stroke="none"/>
<path d="M366 537h1v1h-1zM367 536h1v1h-1zM367 538h1v1h-1zM368 536h1v1h-1zM368 539h1v1h-1zM369 535h1v1h-1zM369 540h1v1h-1zM370 534h1v1h-1zM370 541h1v1h-1zM371 535h1v1h-1zM371 540h1v1h-1zM372 536h1v1h-1zM372 538h1v1h-1zM372 539h1v1h-1zM373 537h1v1h-1z" fill="#00A0FF" stroke="none"/>
<path d="M409 473h1v1h-1zM410 472h1v1h-1zM410 474h1v1h-1zM411 471h1v1h-1zM411 475h1v1h-1zM412 470h1v1h-1zM412 475h1v1h-1zM413 469h1v1h-1zM413 476h1v1h-1zM414 470h1v1h-1zM414 471h1v1h-1zM414 475h1v1h-1zM415 472h1v1h-1zM415 474h1v1h-1zM416 473h1v1h-1z" fill="#00F5BE" stroke="none"/>
<path d="M424 478h1v1h-1zM425 477h1v1h-1zM425 479h1v1h-1zM426 476h1v1h-1zM426 480h1v1h-1zM426 481h1v1h-1zM427 475h1v1h-1zM427 482h1v1h-1zM428 476h1v1h-1zM428 481h1v1h-1zM429 476h1v1h-1zM429 480h1v1h-1zM430 477h1v1h-1zM430 479h1v1h-1zM431 478h1v1h-1z" fill="#00F5BE" stroke="none"/>
<path d="M438 453h1v1h-1zM439 452h1v1h-1zM439 454h1v1h-1zM440 451h1v1h-1zM440 455h1v1h-1zM440 456h1v1h-1zM441 450h1v1h-1zM441 457h1v1h-1zM442 451h1v1h-1zM442 456h1v1h-1zM443 451h1v1h-1zM443 455h1v1h-1zM444 452h1v1h-1zM444 454h1v1h-1zM445 453h1v1h-1z" fill="#00F5BE" stroke="none"/>
<path d="M452 480h1v1h-1zM453 479h1v1h-1zM453 481h1v1h-1zM454 479h1v1h-1zM454 482h1v1h-1zM455 478h1v1h-1zM455 483h1v1h-1zM456 477h1v1h-1zM456 484h1v1h-1zM457 478h1v1h-1zM457 483h1v1h-1zM458 479h1v1h-1zM458 481h1v1h-1zM458 482h1v1h-1zM459 480h1v1h-1z" fill="#00F5BE" stroke="none"/>
<path d="M467 475h1v1h-1zM468 473h1v1h-1zM468 474h1v1h-1zM468 476h1v1h-1zM469 472h1v1h-1zM469 477h1v1h-1zM470 471h1v1h-1zM470 478h1v1h-1zM471 472h1v1h-1zM471 477h1v1h-1zM472 473h1v1h-1zM472 476h1v1h-1zM473 474h1v1h-1zM473 476h1v1h-1zM474 475h1v1h-1z" fill="#00F5BE" stroke="none"/>
<path d="M481 496h1v1h-1zM482 495h1v1h-1zM482 497h1v1h-1zM483 494h1v1h-1zM483 498h1v1h-1zM483 499h1v1h-1zM484 493h1v1h-1zM484 500h1v1h-1zM485 494h1v1h-1zM485 499h1v1h-1zM486 494h1v1h-1zM486 498h1v1h-1zM487 495h1v1h-1zM487 497h1v1h-1zM488 496h1v1h-1z" fill="#00F5BE" stroke="none"/>
<path d="M495 490h1v1h-1zM496 489h1v1h-1zM496 491h1v1h-1zM497 489h1v1h-1zM497 492h1v1h-1zM498 488h1v1h-1zM498 493h1v1h-1zM499 487h1v1h-1zM499 494h1v1h-1zM500 488h1v1h-1zM500 493h1v1h-1zM501 489h1v1h-1zM501 491h1v1h-1zM501 492h1v1h-1zM502 490h1v1h-1z" fill="#00F5BE" stroke="none"/>
<path d="M509 508h1v1h-1zM510 507h1v1h-1zM510 509h1v1h-1zM511 507h1v1h-1zM511 510h1v1h-1zM512 506h1v1h-1zM512 511h1v1h-1zM513 505h1v1h-1zM513 512h1v1h-1zM514 506h1v1h-1zM514 511h1v1h-1zM515 507h1v1h-1zM515 509h1v1h-1zM515 510h1v1h-1zM516 508h1v1h-1z" fill="#00F5BE" stroke="none"/>
<line x1="284.50" y1="535.00" x2="284.50" y2="544.00" stroke="#000" />
<line x1="298.50" y1="519.00" x2="298.50" y2="528.00" stroke="#000" />
<line x1="312.50" y1="521.00" x2="312.50" y2="530.00" stroke="#000" />
<line x1="327.50" y1="505.00" x2="327.50" y2="514.00" stroke="#000" />
<line x1="341.50" y1="535.00" x2="341.50" y2="544.00" stroke="#000" />
<line x1="355.50" y1="550.00" x2="355.50" y2="559.00" stroke="#000" />
<line x1="370.50" y1="533.00" x2="370.50" y2="542.00" stroke="#000" />
<line x1="413.50" y1="469.00" x2="413.50" y2="478.00" stroke="#000" />
<line x1="427.50" y1="474.00" x2="427.50" y2="483.00" stroke="#000" />
<line x1="441.50" y1="449.00" x2="441.50" y2="458.00" stroke="#000" />
<line x1="456.50" y1="476.00" x2="456.50" y2="485.00" stroke="#000" />
<line x1="470.50" y1="471.00" x2="470.50" y2="480.00" stroke="#000" />
<line x1="484.50" y1="492.00" x2="484.50" y2="501.00" stroke="#000" />
<line x1="499.50" y1="486.00" x2="499.50" y2="495.00" stroke="#000" />
<line x1="513.50" y1="504.00" x2="513.50" y2="513.00" stroke="#000" />
<line x1="273.50" y1="762.00" x2="273.50" y2="618.00" stroke="#00A0FF" stroke-dasharray="7.5 5.1"/>
<line x1="383.50" y1="762.00" x2="383.50" y2="618.00" stroke="#00A0FF" stroke-dasharray="7.5 5.1"/>
<line x1="389.00" y1="762.00" x2="389.00" y2="618.00" stroke="#FF0000" stroke-dasharray="7.6 2 2.6 2"/>
<line x1="393.50" y1="762.00" x2="393.50" y2="618.00" stroke="#FF0000" stroke-dasharray="7.5 5.1"/>
<line x1="398.50" y1="762.00" x2="398.50" y2="618.00" stroke="#FF0000" stroke-dasharray="7.6 2 2.6 2"/>
<line x1="402.50" y1="762.00" x2="402.50" y2="618.00" stroke="#00F5BE" stroke-dasharray="7.5 5.1"/>
<line x1="517.50" y1="762.00" x2="517.50" y2="618.00" stroke="#00F5BE" stroke-dasharray="7.5 5.1"/>
<line x1="273.50" y1="718.50" x2="383.50" y2="718.50" stroke="#00A0FF" />
<line x1="402.50" y1="662.50" x2="517.50" y2="662.50" stroke="#00A0FF" />
<path d="M278 714h7v1h-7zM349 714h2v1h-2zM597 659h2v1h-2zM268 713h10v1h-10zM285 713h2v1h-2zM360 713h2v1h-2zM212 697h16v1h-16zM326 749h2v1h-2zM513 640h2v1h-2zM540 666h2v1h-2zM249 710h9v1h-9zM341 710h3v1h-3zM364 710h2v1h-2zM230 700h2v1h-2zM241 709h8v1h-8zM292 709h2v1h-2zM422 652h4v1h-4zM586 652h2v1h-2zM413 655h2v1h-2zM591 655h2v1h-2zM263 712h5v1h-5zM287 712h2v1h-2zM346 712h2v1h-2zM415 654h4v1h-4zM589 654h2v1h-2zM199 706h2v1h-2zM237 706h2v1h-2zM398 642h2v1h-2zM528 657h2v1h-2zM594 657h2v1h-2zM419 653h3v1h-3zM210 698h2v1h-2zM353 716h2v1h-2zM356 716h2v1h-2zM570 632h2v1h-2zM555 686h2v1h-2zM351 715h2v1h-2zM440 693h2v1h-2zM426 651h2v1h-2zM206 701h2v1h-2zM555 685h2v1h-2zM456 635h2v1h-2zM296 707h2v1h-2zM368 707h2v1h-2zM405 648h2v1h-2zM258 711h5v1h-5zM289 711h2v1h-2zM344 711h2v1h-2zM532 660h2v1h-2zM536 663h2v1h-2zM498 694h2v1h-2zM294 708h2v1h-2zM203 703h2v1h-2zM304 714h1v2h-1zM339 714h1v3h-1zM359 714h1v1h-1zM386 683h1v3h-1zM437 681h1v4h-1zM444 681h1v4h-1zM495 682h1v3h-1zM502 682h1v4h-1zM553 683h1v1h-1zM557 681h1v4h-1zM387 679h1v4h-1zM436 678h1v3h-1zM445 677h1v4h-1zM469 677h1v4h-1zM471 679h1v2h-1zM494 678h1v4h-1zM503 678h1v4h-1zM550 678h1v2h-1zM558 677h1v4h-1zM397 643h1v4h-1zM403 646h1v1h-1zM453 644h1v4h-1zM460 646h1v3h-1zM484 646h1v2h-1zM511 646h1v4h-1zM519 646h1v1h-1zM566 645h1v4h-1zM581 646h1v1h-1zM393 658h1v3h-1zM430 659h1v4h-1zM450 656h1v4h-1zM463 656h1v4h-1zM479 658h1v3h-1zM488 658h1v4h-1zM508 658h1v4h-1zM531 659h1v1h-1zM563 657h1v4h-1zM384 690h1v2h-1zM440 691h1v2h-1zM442 689h1v4h-1zM497 688h1v4h-1zM500 690h1v4h-1zM324 745h1v2h-1zM328 746h1v3h-1zM429 656h1v3h-1zM530 658h1v1h-1zM596 658h1v1h-1zM402 645h1v1h-1zM459 642h1v4h-1zM512 642h1v4h-1zM518 645h1v1h-1zM580 644h1v2h-1zM303 713h1v1h-1zM340 711h1v3h-1zM348 713h1v1h-1zM317 734h1v1h-1zM332 734h1v3h-1zM395 650h1v4h-1zM408 650h1v1h-1zM452 648h1v4h-1zM461 649h1v4h-1zM482 650h1v3h-1zM485 648h1v4h-1zM510 650h1v4h-1zM522 650h1v1h-1zM565 649h1v4h-1zM584 650h1v1h-1zM388 675h1v4h-1zM435 675h1v3h-1zM472 676h1v3h-1zM493 675h1v3h-1zM504 674h1v4h-1zM549 677h1v1h-1zM385 686h1v4h-1zM438 685h1v3h-1zM443 685h1v4h-1zM496 685h1v3h-1zM501 686h1v4h-1zM556 687h1v1h-1zM390 668h1v4h-1zM433 669h1v3h-1zM447 669h1v4h-1zM467 670h1v4h-1zM474 671h1v2h-1zM491 668h1v4h-1zM505 670h1v4h-1zM545 671h1v2h-1zM560 669h1v4h-1zM470 681h1v2h-1zM552 681h1v2h-1zM391 665h1v3h-1zM432 666h1v3h-1zM448 664h1v5h-1zM466 667h1v3h-1zM476 666h1v2h-1zM490 665h1v3h-1zM506 666h1v4h-1zM542 667h1v1h-1zM561 665h1v4h-1zM392 661h1v4h-1zM449 660h1v4h-1zM464 660h1v3h-1zM478 661h1v2h-1zM489 662h1v3h-1zM507 662h1v4h-1zM535 662h1v1h-1zM562 661h1v4h-1zM378 697h1v1h-1zM306 717h1v2h-1zM338 717h1v3h-1zM355 717h1v1h-1zM456 633h1v2h-1zM569 633h1v4h-1zM572 634h1v1h-1zM534 661h1v1h-1zM319 737h1v2h-1zM331 737h1v3h-1zM454 640h1v4h-1zM458 639h1v3h-1zM568 637h1v4h-1zM577 640h1v2h-1zM465 663h1v4h-1zM291 710h1v1h-1zM301 710h1v2h-1zM554 684h1v1h-1zM208 700h1v1h-1zM376 700h1v1h-1zM389 672h1v3h-1zM434 672h1v3h-1zM446 673h1v4h-1zM468 674h1v3h-1zM473 673h1v3h-1zM492 672h1v3h-1zM547 674h1v1h-1zM559 673h1v4h-1zM300 709h1v1h-1zM341 709h1v1h-1zM366 709h1v1h-1zM410 652h1v1h-1zM427 652h1v1h-1zM451 652h1v4h-1zM486 652h1v3h-1zM524 652h1v1h-1zM475 668h1v3h-1zM544 670h1v1h-1zM398 641h1v1h-1zM513 639h1v1h-1zM513 641h1v1h-1zM515 641h1v2h-1zM567 641h1v4h-1zM394 654h1v4h-1zM428 653h1v3h-1zM462 653h1v3h-1zM480 655h1v3h-1zM487 655h1v3h-1zM509 654h1v4h-1zM526 655h1v1h-1zM564 653h1v4h-1zM302 712h1v1h-1zM362 712h1v1h-1zM412 654h1v1h-1zM481 653h1v2h-1zM525 653h1v2h-1zM401 644h1v1h-1zM517 644h1v1h-1zM298 706h1v1h-1zM370 706h1v1h-1zM439 688h1v3h-1zM578 642h1v1h-1zM411 653h1v1h-1zM588 653h1v1h-1zM228 698h1v1h-1zM377 698h1v2h-1zM400 643h1v1h-1zM516 643h1v1h-1zM579 643h1v1h-1zM305 716h1v1h-1zM396 647h1v3h-1zM407 649h1v1h-1zM483 648h1v2h-1zM521 649h1v1h-1zM583 648h1v2h-1zM543 668h1v2h-1zM358 715h1v1h-1zM571 633h1v1h-1zM382 693h1v1h-1zM498 692h1v2h-1zM409 651h1v1h-1zM523 651h1v1h-1zM585 651h1v1h-1zM455 636h1v4h-1zM457 636h1v3h-1zM574 636h1v2h-1zM209 699h1v1h-1zM229 699h1v1h-1zM201 705h1v1h-1zM236 705h1v1h-1zM371 705h1v1h-1zM548 675h1v2h-1zM308 720h1v2h-1zM337 720h1v3h-1zM309 722h1v1h-1zM205 702h1v1h-1zM233 702h1v1h-1zM374 702h1v1h-1zM232 701h1v1h-1zM375 701h1v1h-1zM431 663h1v3h-1zM477 663h1v3h-1zM539 665h1v1h-1zM573 635h1v1h-1zM198 707h1v1h-1zM239 707h1v1h-1zM299 707h1v2h-1zM527 656h1v1h-1zM593 656h1v1h-1zM520 647h1v2h-1zM538 664h1v1h-1zM321 740h1v2h-1zM330 740h1v3h-1zM363 711h1v1h-1zM546 673h1v1h-1zM307 719h1v1h-1zM599 660h1v1h-1zM313 727h1v2h-1zM335 726h1v3h-1zM316 732h1v2h-1zM333 731h1v3h-1zM404 647h1v1h-1zM582 647h1v1h-1zM551 680h1v1h-1zM575 638h1v1h-1zM311 724h1v2h-1zM336 723h1v3h-1zM314 729h1v2h-1zM334 729h1v2h-1zM315 731h1v1h-1zM202 704h1v1h-1zM235 704h1v1h-1zM372 704h1v1h-1zM380 695h1v1h-1zM441 694h1v2h-1zM499 695h1v2h-1zM310 723h1v1h-1zM381 694h1v1h-1zM318 735h1v2h-1zM329 743h1v3h-1zM379 696h1v1h-1zM240 708h1v1h-1zM367 708h1v1h-1zM383 692h1v1h-1zM570 631h1v1h-1zM234 703h1v1h-1zM373 703h1v1h-1zM326 748h1v1h-1zM312 726h1v1h-1zM320 739h1v1h-1zM325 747h1v1h-1zM323 743h1v2h-1zM327 750h1v1h-1zM576 639h1v1h-1zM322 742h1v1h-1z" fill="#000" stroke="none"/>
<path d="M280 714h1v1h-1zM281 713h1v1h-1zM281 715h1v1h-1zM282 712h1v1h-1zM282 716h1v1h-1zM283 711h1v1h-1zM283 716h1v1h-1zM284 710h1v1h-1zM284 717h1v1h-1zM285 711h1v1h-1zM285 712h1v1h-1zM285 716h1v1h-1zM286 713h1v1h-1zM286 715h1v1h-1zM287 714h1v1h-1z" fill="#00A0FF" stroke="none"/>
<path d="M295 706h1v1h-1zM296 704h1v1h-1zM296 705h1v1h-1zM296 707h1v1h-1zM297 703h1v1h-1zM297 708h1v1h-1zM298 702h1v1h-1zM298 709h1v1h-1zM299 703h1v1h-1zM299 708h1v1h-1zM300 704h1v1h-1zM300 707h1v1h-1zM301 705h1v1h-1zM301 707h1v1h-1zM302 706h1v1h-1z" fill="#00A0FF" stroke="none"/>
<path d="M309 726h1v1h-1zM310 724h1v1h-1zM310 725h1v1h-1zM310 727h1v1h-1zM311 723h1v1h-1zM311 728h1v1h-1zM312 722h1v1h-1zM312 729h1v1h-1zM313 723h1v1h-1zM313 728h1v1h-1zM314 724h1v1h-1zM314 727h1v1h-1zM315 725h1v1h-1zM315 727h1v1h-1zM316 726h1v1h-1z" fill="#00A0FF" stroke="none"/>
<path d="M323 750h1v1h-1zM324 749h1v1h-1zM324 751h1v1h-1zM325 748h1v1h-1zM325 752h1v1h-1zM326 747h1v1h-1zM326 752h1v1h-1zM327 746h1v1h-1zM327 753h1v1h-1zM328 747h1v1h-1zM328 748h1v1h-1zM328 752h1v1h-1zM329 749h1v1h-1zM329 751h1v1h-1zM330 750h1v1h-1z" fill="#00A0FF" stroke="none"/>
<path d="M338 709h1v1h-1zM339 708h1v1h-1zM339 710h1v1h-1zM340 707h1v1h-1zM340 711h1v1h-1zM340 712h1v1h-1zM341 706h1v1h-1zM341 713h1v1h-1zM342 707h1v1h-1zM342 712h1v1h-1zM343 707h1v1h-1zM343 711h1v1h-1zM344 708h1v1h-1zM344 710h1v1h-1zM345 709h1v1h-1z" fill="#00A0FF" stroke="none"/>
<path d="M352 717h1v1h-1zM353 716h1v1h-1zM353 718h1v1h-1zM354 715h1v1h-1zM354 719h1v1h-1zM354 720h1v1h-1zM355 714h1v1h-1zM355 721h1v1h-1zM356 715h1v1h-1zM356 720h1v1h-1zM357 715h1v1h-1zM357 719h1v1h-1zM358 716h1v1h-1zM358 718h1v1h-1zM359 717h1v1h-1z" fill="#00A0FF" stroke="none"/>
<path d="M366 706h1v1h-1zM367 705h1v1h-1zM367 707h1v1h-1zM368 705h1v1h-1zM368 708h1v1h-1zM369 704h1v1h-1zM369 709h1v1h-1zM370 703h1v1h-1zM370 710h1v1h-1zM371 704h1v1h-1zM371 709h1v1h-1zM372 705h1v1h-1zM372 707h1v1h-1zM372 708h1v1h-1zM373 706h1v1h-1z" fill="#00A0FF" stroke="none"/>
<path d="M409 655h1v1h-1zM410 654h1v1h-1zM410 656h1v1h-1zM411 653h1v1h-1zM411 657h1v1h-1zM412 652h1v1h-1zM412 657h1v1h-1zM413 651h1v1h-1zM413 658h1v1h-1zM414 652h1v1h-1zM414 653h1v1h-1zM414 657h1v1h-1zM415 654h1v1h-1zM415 656h1v1h-1zM416 655h1v1h-1z" fill="#00F5BE" stroke="none"/>
<path d="M424 651h1v1h-1zM425 650h1v1h-1zM425 652h1v1h-1zM426 649h1v1h-1zM426 653h1v1h-1zM426 654h1v1h-1zM427 648h1v1h-1zM427 655h1v1h-1zM428 649h1v1h-1zM428 654h1v1h-1zM429 649h1v1h-1zM429 653h1v1h-1zM430 650h1v1h-1zM430 652h1v1h-1zM431 651h1v1h-1z" fill="#00F5BE" stroke="none"/>
<path d="M438 695h1v1h-1zM439 693h1v1h-1zM439 694h1v1h-1zM439 696h1v1h-1zM440 692h1v1h-1zM440 697h1v1h-1zM441 691h1v1h-1zM441 698h1v1h-1zM442 692h1v1h-1zM442 697h1v1h-1zM443 693h1v1h-1zM443 696h1v1h-1zM444 694h1v1h-1zM444 696h1v1h-1zM445 695h1v1h-1z" fill="#00F5BE" stroke="none"/>
<path d="M452 633h1v1h-1zM453 632h1v1h-1zM453 634h1v1h-1zM454 632h1v1h-1zM454 635h1v1h-1zM455 631h1v1h-1zM455 636h1v1h-1zM456 630h1v1h-1zM456 637h1v1h-1zM457 631h1v1h-1zM457 636h1v1h-1zM458 632h1v1h-1zM458 634h1v1h-1zM458 635h1v1h-1zM459 633h1v1h-1z" fill="#00F5BE" stroke="none"/>
<path d="M467 682h1v1h-1zM468 681h1v1h-1zM468 683h1v1h-1zM469 680h1v1h-1zM469 684h1v1h-1zM469 685h1v1h-1zM470 679h1v1h-1zM470 686h1v1h-1zM471 680h1v1h-1zM471 685h1v1h-1zM472 680h1v1h-1zM472 684h1v1h-1zM473 681h1v1h-1zM473 683h1v1h-1zM474 682h1v1h-1z" fill="#00F5BE" stroke="none"/>
<path d="M481 646h1v1h-1zM482 644h1v1h-1zM482 645h1v1h-1zM482 647h1v1h-1zM483 643h1v1h-1zM483 648h1v1h-1zM484 642h1v1h-1zM484 649h1v1h-1zM485 643h1v1h-1zM485 648h1v1h-1zM486 644h1v1h-1zM486 647h1v1h-1zM487 645h1v1h-1zM487 647h1v1h-1zM488 646h1v1h-1z" fill="#00F5BE" stroke="none"/>
<path d="M495 696h1v1h-1zM496 695h1v1h-1zM496 697h1v1h-1zM497 694h1v1h-1zM497 698h1v1h-1zM498 693h1v1h-1zM498 698h1v1h-1zM499 692h1v1h-1zM499 699h1v1h-1zM500 693h1v1h-1zM500 694h1v1h-1zM500 698h1v1h-1zM501 695h1v1h-1zM501 697h1v1h-1zM502 696h1v1h-1z" fill="#00F5BE" stroke="none"/>
<path d="M509 639h1v1h-1zM510 638h1v1h-1zM510 640h1v1h-1zM511 637h1v1h-1zM511 641h1v1h-1zM512 636h1v1h-1zM512 641h1v1h-1zM513 635h1v1h-1zM513 642h1v1h-1zM514 636h1v1h-1zM514 637h1v1h-1zM514 641h1v1h-1zM515 638h1v1h-1zM515 640h1v1h-1zM516 639h1v1h-1z" fill="#00F5BE" stroke="none"/>
<line x1="284.50" y1="711.00" x2="284.50" y2="718.00" stroke="#000" />
<line x1="298.50" y1="703.00" x2="298.50" y2="710.00" stroke="#000" />
<line x1="312.50" y1="723.00" x2="312.50" y2="730.00" stroke="#000" />
<line x1="327.50" y1="747.00" x2="327.50" y2="754.00" stroke="#000" />
<line x1="341.50" y1="706.00" x2="341.50" y2="713.00" stroke="#000" />
<line x1="355.50" y1="714.00" x2="355.50" y2="721.00" stroke="#000" />
<line x1="370.50" y1="703.00" x2="370.50" y2="710.00" stroke="#000" />
<line x1="413.50" y1="652.00" x2="413.50" y2="659.00" stroke="#000" />
<line x1="427.50" y1="648.00" x2="427.50" y2="655.00" stroke="#000" />
<line x1="441.50" y1="692.00" x2="441.50" y2="699.00" stroke="#000" />
<line x1="456.50" y1="630.00" x2="456.50" y2="637.00" stroke="#000" />
<line x1="470.50" y1="679.00" x2="470.50" y2="686.00" stroke="#000" />
<line x1="484.50" y1="643.00" x2="484.50" y2="650.00" stroke="#000" />
<line x1="499.50" y1="693.00" x2="499.50" y2="700.00" stroke="#000" />
<line x1="513.50" y1="636.00" x2="513.50" y2="643.00" stroke="#000" />
</g>
<g shape-rendering="crispEdges" stroke="#000" stroke-width="1" fill="none">
<rect x="109.5" y="73.5" width="510.0" height="178.0"/>
<rect x="109.5" y="251.5" width="510.0" height="177.0"/>
<rect x="109.5" y="428.5" width="510.0" height="178.0"/>
<rect x="109.5" y="606.5" width="510.0" height="178.0"/>
<line x1="109.50" y1="73.50" x2="109.50" y2="77.00" stroke="#000" />
<line x1="122.50" y1="73.50" x2="122.50" y2="76.00" stroke="#000" />
<line x1="135.50" y1="73.50" x2="135.50" y2="76.00" stroke="#000" />
<line x1="148.50" y1="73.50" x2="148.50" y2="76.00" stroke="#000" />
<line x1="160.50" y1="73.50" x2="160.50" y2="76.00" stroke="#000" />
<line x1="173.50" y1="73.50" x2="173.50" y2="76.00" stroke="#000" />
<line x1="186.50" y1="73.50" x2="186.50" y2="76.00" stroke="#000" />
<line x1="198.50" y1="73.50" x2="198.50" y2="76.00" stroke="#000" />
<line x1="211.50" y1="73.50" x2="211.50" y2="76.00" stroke="#000" />
<line x1="224.50" y1="73.50" x2="224.50" y2="76.00" stroke="#000" />
<line x1="237.50" y1="73.50" x2="237.50" y2="77.00" stroke="#000" />
<line x1="249.50" y1="73.50" x2="249.50" y2="76.00" stroke="#000" />
<line x1="262.50" y1="73.50" x2="262.50" y2="76.00" stroke="#000" />
<line x1="275.50" y1="73.50" x2="275.50" y2="76.00" stroke="#000" />
<line x1="288.50" y1="73.50" x2="288.50" y2="76.00" stroke="#000" />
<line x1="300.50" y1="73.50" x2="300.50" y2="76.00" stroke="#000" />
<line x1="313.50" y1="73.50" x2="313.50" y2="76.00" stroke="#000" />
<line x1="326.50" y1="73.50" x2="326.50" y2="76.00" stroke="#000" />
<line x1="339.50" y1="73.50" x2="339.50" y2="76.00" stroke="#000" />
<line x1="351.50" y1="73.50" x2="351.50" y2="76.00" stroke="#000" />
<line x1="364.50" y1="73.50" x2="364.50" y2="77.00" stroke="#000" />
<line x1="377.50" y1="73.50" x2="377.50" y2="76.00" stroke="#000" />
<line x1="389.50" y1="73.50" x2="389.50" y2="76.00" stroke="#000" />
<line x1="402.50" y1="73.50" x2="402.50" y2="76.00" stroke="#000" />
<line x1="415.50" y1="73.50" x2="415.50" y2="76.00" stroke="#000" />
<line x1="428.50" y1="73.50" x2="428.50" y2="76.00" stroke="#000" />
<line x1="440.50" y1="73.50" x2="440.50" y2="76.00" stroke="#000" />
<line x1="453.50" y1="73.50" x2="453.50" y2="76.00" stroke="#000" />
<line x1="466.50" y1="73.50" x2="466.50" y2="76.00" stroke="#000" />
<line x1="479.50" y1="73.50" x2="479.50" y2="76.00" stroke="#000" />
<line x1="491.50" y1="73.50" x2="491.50" y2="77.00" stroke="#000" />
<line x1="504.50" y1="73.50" x2="504.50" y2="76.00" stroke="#000" />
<line x1="517.50" y1="73.50" x2="517.50" y2="76.00" stroke="#000" />
<line x1="529.50" y1="73.50" x2="529.50" y2="76.00" stroke="#000" />
<line x1="542.50" y1="73.50" x2="542.50" y2="76.00" stroke="#000" />
<line x1="555.50" y1="73.50" x2="555.50" y2="76.00" stroke="#000" />
<line x1="568.50" y1="73.50" x2="568.50" y2="76.00" stroke="#000" />
<line x1="580.50" y1="73.50" x2="580.50" y2="76.00" stroke="#000" />
<line x1="593.50" y1="73.50" x2="593.50" y2="76.00" stroke="#000" />
<line x1="606.50" y1="73.50" x2="606.50" y2="76.00" stroke="#000" />
<line x1="619.50" y1="73.50" x2="619.50" y2="77.00" stroke="#000" />
<line x1="109.50" y1="251.50" x2="109.50" y2="255.00" stroke="#000" />
<line x1="109.50" y1="428.50" x2="109.50" y2="425.00" stroke="#000" />
<line x1="122.50" y1="251.50" x2="122.50" y2="253.00" stroke="#000" />
<line x1="122.50" y1="428.50" x2="122.50" y2="427.00" stroke="#000" />
<line x1="135.50" y1="251.50" x2="135.50" y2="253.00" stroke="#000" />
<line x1="135.50" y1="428.50" x2="135.50" y2="427.00" stroke="#000" />
<line x1="148.50" y1="251.50" x2="148.50" y2="253.00" stroke="#000" />
<line x1="148.50" y1="428.50" x2="148.50" y2="427.00" stroke="#000" />
<line x1="160.50" y1="251.50" x2="160.50" y2="253.00" stroke="#000" />
<line x1="160.50" y1="428.50" x2="160.50" y2="427.00" stroke="#000" />
<line x1="173.50" y1="251.50" x2="173.50" y2="253.00" stroke="#000" />
<line x1="173.50" y1="428.50" x2="173.50" y2="427.00" stroke="#000" />
<line x1="186.50" y1="251.50" x2="186.50" y2="253.00" stroke="#000" />
<line x1="186.50" y1="428.50" x2="186.50" y2="427.00" stroke="#000" />
<line x1="198.50" y1="251.50" x2="198.50" y2="253.00" stroke="#000" />
<line x1="198.50" y1="428.50" x2="198.50" y2="427.00" stroke="#000" />
<line x1="211.50" y1="251.50" x2="211.50" y2="253.00" stroke="#000" />
<line x1="211.50" y1="428.50" x2="211.50" y2="427.00" stroke="#000" />
<line x1="224.50" y1="251.50" x2="224.50" y2="253.00" stroke="#000" />
<line x1="224.50" y1="428.50" x2="224.50" y2="427.00" stroke="#000" />
<line x1="237.50" y1="251.50" x2="237.50" y2="255.00" stroke="#000" />
<line x1="237.50" y1="428.50" x2="237.50" y2="425.00" stroke="#000" />
<line x1="249.50" y1="251.50" x2="249.50" y2="253.00" stroke="#000" />
<line x1="249.50" y1="428.50" x2="249.50" y2="427.00" stroke="#000" />
<line x1="262.50" y1="251.50" x2="262.50" y2="253.00" stroke="#000" />
<line x1="262.50" y1="428.50" x2="262.50" y2="427.00" stroke="#000" />
<line x1="275.50" y1="251.50" x2="275.50" y2="253.00" stroke="#000" />
<line x1="275.50" y1="428.50" x2="275.50" y2="427.00" stroke="#000" />
<line x1="288.50" y1="251.50" x2="288.50" y2="253.00" stroke="#000" />
<line x1="288.50" y1="428.50" x2="288.50" y2="427.00" stroke="#000" />
<line x1="300.50" y1="251.50" x2="300.50" y2="253.00" stroke="#000" />
<line x1="300.50" y1="428.50" x2="300.50" y2="427.00" stroke="#000" />
<line x1="313.50" y1="251.50" x2="313.50" y2="253.00" stroke="#000" />
<line x1="313.50" y1="428.50" x2="313.50" y2="427.00" stroke="#000" />
<line x1="326.50" y1="251.50" x2="326.50" y2="253.00" stroke="#000" />
<line x1="326.50" y1="428.50" x2="326.50" y2="427.00" stroke="#000" />
<line x1="339.50" y1="251.50" x2="339.50" y2="253.00" stroke="#000" />
<line x1="339.50" y1="428.50" x2="339.50" y2="427.00" stroke="#000" />
<line x1="351.50" y1="251.50" x2="351.50" y2="253.00" stroke="#000" />
<line x1="351.50" y1="428.50" x2="351.50" y2="427.00" stroke="#000" />
<line x1="364.50" y1="251.50" x2="364.50" y2="255.00" stroke="#000" />
<line x1="364.50" y1="428.50" x2="364.50" y2="425.00" stroke="#000" />
<line x1="377.50" y1="251.50" x2="377.50" y2="253.00" stroke="#000" />
<line x1="377.50" y1="428.50" x2="377.50" y2="427.00" stroke="#000" />
<line x1="389.50" y1="251.50" x2="389.50" y2="253.00" stroke="#000" />
<line x1="389.50" y1="428.50" x2="389.50" y2="427.00" stroke="#000" />
<line x1="402.50" y1="251.50" x2="402.50" y2="253.00" stroke="#000" />
<line x1="402.50" y1="428.50" x2="402.50" y2="427.00" stroke="#000" />
<line x1="415.50" y1="251.50" x2="415.50" y2="253.00" stroke="#000" />
<line x1="415.50" y1="428.50" x2="415.50" y2="427.00" stroke="#000" />
<line x1="428.50" y1="251.50" x2="428.50" y2="253.00" stroke="#000" />
<line x1="428.50" y1="428.50" x2="428.50" y2="427.00" stroke="#000" />
<line x1="440.50" y1="251.50" x2="440.50" y2="253.00" stroke="#000" />
<line x1="440.50" y1="428.50" x2="440.50" y2="427.00" stroke="#000" />
<line x1="453.50" y1="251.50" x2="453.50" y2="253.00" stroke="#000" />
<line x1="453.50" y1="428.50" x2="453.50" y2="427.00" stroke="#000" />
<line x1="466.50" y1="251.50" x2="466.50" y2="253.00" stroke="#000" />
<line x1="466.50" y1="428.50" x2="466.50" y2="427.00" stroke="#000" />
<line x1="479.50" y1="251.50" x2="479.50" y2="253.00" stroke="#000" />
<line x1="479.50" y1="428.50" x2="479.50" y2="427.00" stroke="#000" />
<line x1="491.50" y1="251.50" x2="491.50" y2="255.00" stroke="#000" />
<line x1="491.50" y1="428.50" x2="491.50" y2="425.00" stroke="#000" />
<line x1="504.50" y1="251.50" x2="504.50" y2="253.00" stroke="#000" />
<line x1="504.50" y1="428.50" x2="504.50" y2="427.00" stroke="#000" />
<line x1="517.50" y1="251.50" x2="517.50" y2="253.00" stroke="#000" />
<line x1="517.50" y1="428.50" x2="517.50" y2="427.00" stroke="#000" />
<line x1="529.50" y1="251.50" x2="529.50" y2="253.00" stroke="#000" />
<line x1="529.50" y1="428.50" x2="529.50" y2="427.00" stroke="#000" />
<line x1="542.50" y1="251.50" x2="542.50" y2="253.00" stroke="#000" />
<line x1="542.50" y1="428.50" x2="542.50" y2="427.00" stroke="#000" />
<line x1="555.50" y1="251.50" x2="555.50" y2="253.00" stroke="#000" />
<line x1="555.50" y1="428.50" x2="555.50" y2="427.00" stroke="#000" />
<line x1="568.50" y1="251.50" x2="568.50" y2="253.00" stroke="#000" />
<line x1="568.50" y1="428.50" x2="568.50" y2="427.00" stroke="#000" />
<line x1="580.50" y1="251.50" x2="580.50" y2="253.00" stroke="#000" />
<line x1="580.50" y1="428.50" x2="580.50" y2="427.00" stroke="#000" />
<line x1="593.50" y1="251.50" x2="593.50" y2="253.00" stroke="#000" />
<line x1="593.50" y1="428.50" x2="593.50" y2="427.00" stroke="#000" />
<line x1="606.50" y1="251.50" x2="606.50" y2="253.00" stroke="#000" />
<line x1="606.50" y1="428.50" x2="606.50" y2="427.00" stroke="#000" />
<line x1="619.50" y1="251.50" x2="619.50" y2="255.00" stroke="#000" />
<line x1="619.50" y1="428.50" x2="619.50" y2="425.00" stroke="#000" />
<line x1="109.50" y1="428.50" x2="109.50" y2="433.00" stroke="#000" />
<line x1="109.50" y1="606.50" x2="109.50" y2="603.00" stroke="#000" />
<line x1="122.50" y1="428.50" x2="122.50" y2="431.00" stroke="#000" />
<line x1="122.50" y1="606.50" x2="122.50" y2="605.00" stroke="#000" />
<line x1="135.50" y1="428.50" x2="135.50" y2="431.00" stroke="#000" />
<line x1="135.50" y1="606.50" x2="135.50" y2="605.00" stroke="#000" />
<line x1="148.50" y1="428.50" x2="148.50" y2="431.00" stroke="#000" />
<line x1="148.50" y1="606.50" x2="148.50" y2="605.00" stroke="#000" />
<line x1="160.50" y1="428.50" x2="160.50" y2="431.00" stroke="#000" />
<line x1="160.50" y1="606.50" x2="160.50" y2="605.00" stroke="#000" />
<line x1="173.50" y1="428.50" x2="173.50" y2="431.00" stroke="#000" />
<line x1="173.50" y1="606.50" x2="173.50" y2="605.00" stroke="#000" />
<line x1="186.50" y1="428.50" x2="186.50" y2="431.00" stroke="#000" />
<line x1="186.50" y1="606.50" x2="186.50" y2="605.00" stroke="#000" />
<line x1="198.50" y1="428.50" x2="198.50" y2="431.00" stroke="#000" />
<line x1="198.50" y1="606.50" x2="198.50" y2="605.00" stroke="#000" />
<line x1="211.50" y1="428.50" x2="211.50" y2="431.00" stroke="#000" />
<line x1="211.50" y1="606.50" x2="211.50" y2="605.00" stroke="#000" />
<line x1="224.50" y1="428.50" x2="224.50" y2="431.00" stroke="#000" />
<line x1="224.50" y1="606.50" x2="224.50" y2="605.00" stroke="#000" />
<line x1="237.50" y1="428.50" x2="237.50" y2="433.00" stroke="#000" />
<line x1="237.50" y1="606.50" x2="237.50" y2="603.00" stroke="#000" />
<line x1="249.50" y1="428.50" x2="249.50" y2="431.00" stroke="#000" />
<line x1="249.50" y1="606.50" x2="249.50" y2="605.00" stroke="#000" />
<line x1="262.50" y1="428.50" x2="262.50" y2="431.00" stroke="#000" />
<line x1="262.50" y1="606.50" x2="262.50" y2="605.00" stroke="#000" />
<line x1="275.50" y1="428.50" x2="275.50" y2="431.00" stroke="#000" />
<line x1="275.50" y1="606.50" x2="275.50" y2="605.00" stroke="#000" />
<line x1="288.50" y1="428.50" x2="288.50" y2="431.00" stroke="#000" />
<line x1="288.50" y1="606.50" x2="288.50" y2="605.00" stroke="#000" />
<line x1="300.50" y1="428.50" x2="300.50" y2="431.00" stroke="#000" />
<line x1="300.50" y1="606.50" x2="300.50" y2="605.00" stroke="#000" />
<line x1="313.50" y1="428.50" x2="313.50" y2="431.00" stroke="#000" />
<line x1="313.50" y1="606.50" x2="313.50" y2="605.00" stroke="#000" />
<line x1="326.50" y1="428.50" x2="326.50" y2="431.00" stroke="#000" />
<line x1="326.50" y1="606.50" x2="326.50" y2="605.00" stroke="#000" />
<line x1="339.50" y1="428.50" x2="339.50" y2="431.00" stroke="#000" />
<line x1="339.50" y1="606.50" x2="339.50" y2="605.00" stroke="#000" />
<line x1="351.50" y1="428.50" x2="351.50" y2="431.00" stroke="#000" />
<line x1="351.50" y1="606.50" x2="351.50" y2="605.00" stroke="#000" />
<line x1="364.50" y1="428.50" x2="364.50" y2="433.00" stroke="#000" />
<line x1="364.50" y1="606.50" x2="364.50" y2="603.00" stroke="#000" />
<line x1="377.50" y1="428.50" x2="377.50" y2="431.00" stroke="#000" />
<line x1="377.50" y1="606.50" x2="377.50" y2="605.00" stroke="#000" />
<line x1="389.50" y1="428.50" x2="389.50" y2="431.00" stroke="#000" />
<line x1="389.50" y1="606.50" x2="389.50" y2="605.00" stroke="#000" />
<line x1="402.50" y1="428.50" x2="402.50" y2="431.00" stroke="#000" />
<line x1="402.50" y1="606.50" x2="402.50" y2="605.00" stroke="#000" />
<line x1="415.50" y1="428.50" x2="415.50" y2="431.00" stroke="#000" />
<line x1="415.50" y1="606.50" x2="415.50" y2="605.00" stroke="#000" />
<line x1="428.50" y1="428.50" x2="428.50" y2="431.00" stroke="#000" />
<line x1="428.50" y1="606.50" x2="428.50" y2="605.00" stroke="#000" />
<line x1="440.50" y1="428.50" x2="440.50" y2="431.00" stroke="#000" />
<line x1="440.50" y1="606.50" x2="440.50" y2="605.00" stroke="#000" />
<line x1="453.50" y1="428.50" x2="453.50" y2="431.00" stroke="#000" />
<line x1="453.50" y1="606.50" x2="453.50" y2="605.00" stroke="#000" />
<line x1="466.50" y1="428.50" x2="466.50" y2="431.00" stroke="#000" />
<line x1="466.50" y1="606.50" x2="466.50" y2="605.00" stroke="#000" />
<line x1="479.50" y1="428.50" x2="479.50" y2="431.00" stroke="#000" />
<line x1="479.50" y1="606.50" x2="479.50" y2="605.00" stroke="#000" />
<line x1="491.50" y1="428.50" x2="491.50" y2="433.00" stroke="#000" />
<line x1="491.50" y1="606.50" x2="491.50" y2="603.00" stroke="#000" />
<line x1="504.50" y1="428.50" x2="504.50" y2="431.00" stroke="#000" />
<line x1="504.50" y1="606.50" x2="504.50" y2="605.00" stroke="#000" />
<line x1="517.50" y1="428.50" x2="517.50" y2="431.00" stroke="#000" />
<line x1="517.50" y1="606.50" x2="517.50" y2="605.00" stroke="#000" />
<line x1="529.50" y1="428.50" x2="529.50" y2="431.00" stroke="#000" />
<line x1="529.50" y1="606.50" x2="529.50" y2="605.00" stroke="#000" />
<line x1="542.50" y1="428.50" x2="542.50" y2="431.00" stroke="#000" />
<line x1="542.50" y1="606.50" x2="542.50" y2="605.00" stroke="#000" />
<line x1="555.50" y1="428.50" x2="555.50" y2="431.00" stroke="#000" />
<line x1="555.50" y1="606.50" x2="555.50" y2="605.00" stroke="#000" />
<line x1="568.50" y1="428.50" x2="568.50" y2="431.00" stroke="#000" />
<line x1="568.50" y1="606.50" x2="568.50" y2="605.00" stroke="#000" />
<line x1="580.50" y1="428.50" x2="580.50" y2="431.00" stroke="#000" />
<line x1="580.50" y1="606.50" x2="580.50" y2="605.00" stroke="#000" />
<line x1="593.50" y1="428.50" x2="593.50" y2="431.00" stroke="#000" />
<line x1="593.50" y1="606.50" x2="593.50" y2="605.00" stroke="#000" />
<line x1="606.50" y1="428.50" x2="606.50" y2="431.00" stroke="#000" />
<line x1="606.50" y1="606.50" x2="606.50" y2="605.00" stroke="#000" />
<line x1="619.50" y1="428.50" x2="619.50" y2="433.00" stroke="#000" />
<line x1="619.50" y1="606.50" x2="619.50" y2="603.00" stroke="#000" />
<line x1="109.50" y1="606.50" x2="109.50" y2="611.00" stroke="#000" />
<line x1="109.50" y1="784.50" x2="109.50" y2="781.00" stroke="#000" />
<line x1="122.50" y1="606.50" x2="122.50" y2="609.00" stroke="#000" />
<line x1="122.50" y1="784.50" x2="122.50" y2="782.00" stroke="#000" />
<line x1="135.50" y1="606.50" x2="135.50" y2="609.00" stroke="#000" />
<line x1="135.50" y1="784.50" x2="135.50" y2="782.00" stroke="#000" />
<line x1="148.50" y1="606.50" x2="148.50" y2="609.00" stroke="#000" />
<line x1="148.50" y1="784.50" x2="148.50" y2="782.00" stroke="#000" />
<line x1="160.50" y1="606.50" x2="160.50" y2="609.00" stroke="#000" />
<line x1="160.50" y1="784.50" x2="160.50" y2="782.00" stroke="#000" />
<line x1="173.50" y1="606.50" x2="173.50" y2="609.00" stroke="#000" />
<line x1="173.50" y1="784.50" x2="173.50" y2="782.00" stroke="#000" />
<line x1="186.50" y1="606.50" x2="186.50" y2="609.00" stroke="#000" />
<line x1="186.50" y1="784.50" x2="186.50" y2="782.00" stroke="#000" />
<line x1="198.50" y1="606.50" x2="198.50" y2="609.00" stroke="#000" />
<line x1="198.50" y1="784.50" x2="198.50" y2="782.00" stroke="#000" />
<line x1="211.50" y1="606.50" x2="211.50" y2="609.00" stroke="#000" />
<line x1="211.50" y1="784.50" x2="211.50" y2="782.00" stroke="#000" />
<line x1="224.50" y1="606.50" x2="224.50" y2="609.00" stroke="#000" />
<line x1="224.50" y1="784.50" x2="224.50" y2="782.00" stroke="#000" />
<line x1="237.50" y1="606.50" x2="237.50" y2="611.00" stroke="#000" />
<line x1="237.50" y1="784.50" x2="237.50" y2="781.00" stroke="#000" />
<line x1="249.50" y1="606.50" x2="249.50" y2="609.00" stroke="#000" />
<line x1="249.50" y1="784.50" x2="249.50" y2="782.00" stroke="#000" />
<line x1="262.50" y1="606.50" x2="262.50" y2="609.00" stroke="#000" />
<line x1="262.50" y1="784.50" x2="262.50" y2="782.00" stroke="#000" />
<line x1="275.50" y1="606.50" x2="275.50" y2="609.00" stroke="#000" />
<line x1="275.50" y1="784.50" x2="275.50" y2="782.00" stroke="#000" />
<line x1="288.50" y1="606.50" x2="288.50" y2="609.00" stroke="#000" />
<line x1="288.50" y1="784.50" x2="288.50" y2="782.00" stroke="#000" />
<line x1="300.50" y1="606.50" x2="300.50" y2="609.00" stroke="#000" />
<line x1="300.50" y1="784.50" x2="300.50" y2="782.00" stroke="#000" />
<line x1="313.50" y1="606.50" x2="313.50" y2="609.00" stroke="#000" />
<line x1="313.50" y1="784.50" x2="313.50" y2="782.00" stroke="#000" />
<line x1="326.50" y1="606.50" x2="326.50" y2="609.00" stroke="#000" />
<line x1="326.50" y1="784.50" x2="326.50" y2="782.00" stroke="#000" />
<line x1="339.50" y1="606.50" x2="339.50" y2="609.00" stroke="#000" />
<line x1="339.50" y1="784.50" x2="339.50" y2="782.00" stroke="#000" />
<line x1="351.50" y1="606.50" x2="351.50" y2="609.00" stroke="#000" />
<line x1="351.50" y1="784.50" x2="351.50" y2="782.00" stroke="#000" />
<line x1="364.50" y1="606.50" x2="364.50" y2="611.00" stroke="#000" />
<line x1="364.50" y1="784.50" x2="364.50" y2="781.00" stroke="#000" />
<line x1="377.50" y1="606.50" x2="377.50" y2="609.00" stroke="#000" />
<line x1="377.50" y1="784.50" x2="377.50" y2="782.00" stroke="#000" />
<line x1="389.50" y1="606.50" x2="389.50" y2="609.00" stroke="#000" />
<line x1="389.50" y1="784.50" x2="389.50" y2="782.00" stroke="#000" />
<line x1="402.50" y1="606.50" x2="402.50" y2="609.00" stroke="#000" />
<line x1="402.50" y1="784.50" x2="402.50" y2="782.00" stroke="#000" />
<line x1="415.50" y1="606.50" x2="415.50" y2="609.00" stroke="#000" />
<line x1="415.50" y1="784.50" x2="415.50" y2="782.00" stroke="#000" />
<line x1="428.50" y1="606.50" x2="428.50" y2="609.00" stroke="#000" />
<line x1="428.50" y1="784.50" x2="428.50" y2="782.00" stroke="#000" />
<line x1="440.50" y1="606.50" x2="440.50" y2="609.00" stroke="#000" />
<line x1="440.50" y1="784.50" x2="440.50" y2="782.00" stroke="#000" />
<line x1="453.50" y1="606.50" x2="453.50" y2="609.00" stroke="#000" />
<line x1="453.50" y1="784.50" x2="453.50" y2="782.00" stroke="#000" />
<line x1="466.50" y1="606.50" x2="466.50" y2="609.00" stroke="#000" />
<line x1="466.50" y1="784.50" x2="466.50" y2="782.00" stroke="#000" />
<line x1="479.50" y1="606.50" x2="479.50" y2="609.00" stroke="#000" />
<line x1="479.50" y1="784.50" x2="479.50" y2="782.00" stroke="#000" />
<line x1="491.50" y1="606.50" x2="491.50" y2="611.00" stroke="#000" />
<line x1="491.50" y1="784.50" x2="491.50" y2="781.00" stroke="#000" />
<line x1="504.50" y1="606.50" x2="504.50" y2="609.00" stroke="#000" />
<line x1="504.50" y1="784.50" x2="504.50" y2="782.00" stroke="#000" />
<line x1="517.50" y1="606.50" x2="517.50" y2="609.00" stroke="#000" />
<line x1="517.50" y1="784.50" x2="517.50" y2="782.00" stroke="#000" />
<line x1="529.50" y1="606.50" x2="529.50" y2="609.00" stroke="#000" />
<line x1="529.50" y1="784.50" x2="529.50" y2="782.00" stroke="#000" />
<line x1="542.50" y1="606.50" x2="542.50" y2="609.00" stroke="#000" />
<line x1="542.50" y1="784.50" x2="542.50" y2="782.00" stroke="#000" />
<line x1="555.50" y1="606.50" x2="555.50" y2="609.00" stroke="#000" />
<line x1="555.50" y1="784.50" x2="555.50" y2="782.00" stroke="#000" />
<line x1="568.50" y1="606.50" x2="568.50" y2="609.00" stroke="#000" />
<line x1="568.50" y1="784.50" x2="568.50" y2="782.00" stroke="#000" />
<line x1="580.50" y1="606.50" x2="580.50" y2="609.00" stroke="#000" />
<line x1="580.50" y1="784.50" x2="580.50" y2="782.00" stroke="#000" />
<line x1="593.50" y1="606.50" x2="593.50" y2="609.00" stroke="#000" />
<line x1="593.50" y1="784.50" x2="593.50" y2="782.00" stroke="#000" />
<line x1="606.50" y1="606.50" x2="606.50" y2="609.00" stroke="#000" />
<line x1="606.50" y1="784.50" x2="606.50" y2="782.00" stroke="#000" />
<line x1="619.50" y1="606.50" x2="619.50" y2="611.00" stroke="#000" />
<line x1="619.50" y1="784.50" x2="619.50" y2="781.00" stroke="#000" />
<line x1="111.08" y1="251.50" x2="111.08" y2="249.00" stroke="#000" />
<line x1="127.22" y1="251.50" x2="127.22" y2="249.00" stroke="#000" />
<line x1="143.36" y1="251.50" x2="143.36" y2="249.00" stroke="#000" />
<line x1="159.50" y1="251.50" x2="159.50" y2="247.00" stroke="#000" />
<line x1="175.64" y1="251.50" x2="175.64" y2="249.00" stroke="#000" />
<line x1="191.78" y1="251.50" x2="191.78" y2="249.00" stroke="#000" />
<line x1="207.92" y1="251.50" x2="207.92" y2="249.00" stroke="#000" />
<line x1="224.06" y1="251.50" x2="224.06" y2="249.00" stroke="#000" />
<line x1="240.20" y1="251.50" x2="240.20" y2="247.00" stroke="#000" />
<line x1="256.34" y1="251.50" x2="256.34" y2="249.00" stroke="#000" />
<line x1="272.48" y1="251.50" x2="272.48" y2="249.00" stroke="#000" />
<line x1="288.62" y1="251.50" x2="288.62" y2="249.00" stroke="#000" />
<line x1="304.76" y1="251.50" x2="304.76" y2="249.00" stroke="#000" />
<line x1="320.90" y1="251.50" x2="320.90" y2="247.00" stroke="#000" />
<line x1="337.04" y1="251.50" x2="337.04" y2="249.00" stroke="#000" />
<line x1="353.18" y1="251.50" x2="353.18" y2="249.00" stroke="#000" />
<line x1="369.32" y1="251.50" x2="369.32" y2="249.00" stroke="#000" />
<line x1="385.46" y1="251.50" x2="385.46" y2="249.00" stroke="#000" />
<line x1="401.60" y1="251.50" x2="401.60" y2="247.00" stroke="#000" />
<line x1="417.74" y1="251.50" x2="417.74" y2="249.00" stroke="#000" />
<line x1="433.88" y1="251.50" x2="433.88" y2="249.00" stroke="#000" />
<line x1="450.02" y1="251.50" x2="450.02" y2="249.00" stroke="#000" />
<line x1="466.16" y1="251.50" x2="466.16" y2="249.00" stroke="#000" />
<line x1="482.30" y1="251.50" x2="482.30" y2="247.00" stroke="#000" />
<line x1="498.44" y1="251.50" x2="498.44" y2="249.00" stroke="#000" />
<line x1="514.58" y1="251.50" x2="514.58" y2="249.00" stroke="#000" />
<line x1="530.72" y1="251.50" x2="530.72" y2="249.00" stroke="#000" />
<line x1="546.86" y1="251.50" x2="546.86" y2="249.00" stroke="#000" />
<line x1="563.00" y1="251.50" x2="563.00" y2="247.00" stroke="#000" />
<line x1="579.14" y1="251.50" x2="579.14" y2="249.00" stroke="#000" />
<line x1="595.28" y1="251.50" x2="595.28" y2="249.00" stroke="#000" />
<line x1="611.42" y1="251.50" x2="611.42" y2="249.00" stroke="#000" />
<line x1="109.50" y1="242.50" x2="116.00" y2="242.50" stroke="#000" />
<line x1="619.50" y1="242.50" x2="613.00" y2="242.50" stroke="#000" />
<line x1="109.50" y1="233.50" x2="116.00" y2="233.50" stroke="#000" />
<line x1="619.50" y1="233.50" x2="613.00" y2="233.50" stroke="#000" />
<line x1="109.50" y1="224.50" x2="116.00" y2="224.50" stroke="#000" />
<line x1="619.50" y1="224.50" x2="613.00" y2="224.50" stroke="#000" />
<line x1="109.50" y1="215.50" x2="116.00" y2="215.50" stroke="#000" />
<line x1="619.50" y1="215.50" x2="613.00" y2="215.50" stroke="#000" />
<line x1="109.50" y1="206.50" x2="121.00" y2="206.50" stroke="#000" />
<line x1="619.50" y1="206.50" x2="608.00" y2="206.50" stroke="#000" />
<line x1="109.50" y1="197.50" x2="116.00" y2="197.50" stroke="#000" />
<line x1="619.50" y1="197.50" x2="613.00" y2="197.50" stroke="#000" />
<line x1="109.50" y1="188.50" x2="116.00" y2="188.50" stroke="#000" />
<line x1="619.50" y1="188.50" x2="613.00" y2="188.50" stroke="#000" />
<line x1="109.50" y1="179.50" x2="116.00" y2="179.50" stroke="#000" />
<line x1="619.50" y1="179.50" x2="613.00" y2="179.50" stroke="#000" />
<line x1="109.50" y1="171.50" x2="116.00" y2="171.50" stroke="#000" />
<line x1="619.50" y1="171.50" x2="613.00" y2="171.50" stroke="#000" />
<line x1="109.50" y1="162.50" x2="121.00" y2="162.50" stroke="#000" />
<line x1="619.50" y1="162.50" x2="608.00" y2="162.50" stroke="#000" />
<line x1="109.50" y1="153.50" x2="116.00" y2="153.50" stroke="#000" />
<line x1="619.50" y1="153.50" x2="613.00" y2="153.50" stroke="#000" />
<line x1="109.50" y1="144.50" x2="116.00" y2="144.50" stroke="#000" />
<line x1="619.50" y1="144.50" x2="613.00" y2="144.50" stroke="#000" />
<line x1="109.50" y1="135.50" x2="116.00" y2="135.50" stroke="#000" />
<line x1="619.50" y1="135.50" x2="613.00" y2="135.50" stroke="#000" />
<line x1="109.50" y1="126.50" x2="116.00" y2="126.50" stroke="#000" />
<line x1="619.50" y1="126.50" x2="613.00" y2="126.50" stroke="#000" />
<line x1="109.50" y1="117.50" x2="121.00" y2="117.50" stroke="#000" />
<line x1="619.50" y1="117.50" x2="608.00" y2="117.50" stroke="#000" />
<line x1="109.50" y1="108.50" x2="116.00" y2="108.50" stroke="#000" />
<line x1="619.50" y1="108.50" x2="613.00" y2="108.50" stroke="#000" />
<line x1="109.50" y1="99.50" x2="116.00" y2="99.50" stroke="#000" />
<line x1="619.50" y1="99.50" x2="613.00" y2="99.50" stroke="#000" />
<line x1="109.50" y1="91.50" x2="116.00" y2="91.50" stroke="#000" />
<line x1="619.50" y1="91.50" x2="613.00" y2="91.50" stroke="#000" />
<line x1="109.50" y1="82.50" x2="116.00" y2="82.50" stroke="#000" />
<line x1="619.50" y1="82.50" x2="613.00" y2="82.50" stroke="#000" />
<line x1="109.50" y1="420.50" x2="116.00" y2="420.50" stroke="#000" />
<line x1="619.50" y1="420.50" x2="613.00" y2="420.50" stroke="#000" />
<line x1="109.50" y1="411.50" x2="116.00" y2="411.50" stroke="#000" />
<line x1="619.50" y1="411.50" x2="613.00" y2="411.50" stroke="#000" />
<line x1="109.50" y1="402.50" x2="116.00" y2="402.50" stroke="#000" />
<line x1="619.50" y1="402.50" x2="613.00" y2="402.50" stroke="#000" />
<line x1="109.50" y1="393.50" x2="116.00" y2="393.50" stroke="#000" />
<line x1="619.50" y1="393.50" x2="613.00" y2="393.50" stroke="#000" />
<line x1="109.50" y1="384.50" x2="121.00" y2="384.50" stroke="#000" />
<line x1="619.50" y1="384.50" x2="608.00" y2="384.50" stroke="#000" />
<line x1="109.50" y1="375.50" x2="116.00" y2="375.50" stroke="#000" />
<line x1="619.50" y1="375.50" x2="613.00" y2="375.50" stroke="#000" />
<line x1="109.50" y1="366.50" x2="116.00" y2="366.50" stroke="#000" />
<line x1="619.50" y1="366.50" x2="613.00" y2="366.50" stroke="#000" />
<line x1="109.50" y1="357.50" x2="116.00" y2="357.50" stroke="#000" />
<line x1="619.50" y1="357.50" x2="613.00" y2="357.50" stroke="#000" />
<line x1="109.50" y1="348.50" x2="116.00" y2="348.50" stroke="#000" />
<line x1="619.50" y1="348.50" x2="613.00" y2="348.50" stroke="#000" />
<line x1="109.50" y1="340.50" x2="121.00" y2="340.50" stroke="#000" />
<line x1="619.50" y1="340.50" x2="608.00" y2="340.50" stroke="#000" />
<line x1="109.50" y1="331.50" x2="116.00" y2="331.50" stroke="#000" />
<line x1="619.50" y1="331.50" x2="613.00" y2="331.50" stroke="#000" />
<line x1="109.50" y1="322.50" x2="116.00" y2="322.50" stroke="#000" />
<line x1="619.50" y1="322.50" x2="613.00" y2="322.50" stroke="#000" />
<line x1="109.50" y1="313.50" x2="116.00" y2="313.50" stroke="#000" />
<line x1="619.50" y1="313.50" x2="613.00" y2="313.50" stroke="#000" />
<line x1="109.50" y1="304.50" x2="116.00" y2="304.50" stroke="#000" />
<line x1="619.50" y1="304.50" x2="613.00" y2="304.50" stroke="#000" />
<line x1="109.50" y1="295.50" x2="121.00" y2="295.50" stroke="#000" />
<line x1="619.50" y1="295.50" x2="608.00" y2="295.50" stroke="#000" />
<line x1="109.50" y1="286.50" x2="116.00" y2="286.50" stroke="#000" />
<line x1="619.50" y1="286.50" x2="613.00" y2="286.50" stroke="#000" />
<line x1="109.50" y1="277.50" x2="116.00" y2="277.50" stroke="#000" />
<line x1="619.50" y1="277.50" x2="613.00" y2="277.50" stroke="#000" />
<line x1="109.50" y1="268.50" x2="116.00" y2="268.50" stroke="#000" />
<line x1="619.50" y1="268.50" x2="613.00" y2="268.50" stroke="#000" />
<line x1="109.50" y1="259.50" x2="116.00" y2="259.50" stroke="#000" />
<line x1="619.50" y1="259.50" x2="613.00" y2="259.50" stroke="#000" />
<line x1="109.50" y1="595.50" x2="116.00" y2="595.50" stroke="#000" />
<line x1="619.50" y1="595.50" x2="613.00" y2="595.50" stroke="#000" />
<line x1="109.50" y1="584.50" x2="116.00" y2="584.50" stroke="#000" />
<line x1="619.50" y1="584.50" x2="613.00" y2="584.50" stroke="#000" />
<line x1="109.50" y1="573.50" x2="116.00" y2="573.50" stroke="#000" />
<line x1="619.50" y1="573.50" x2="613.00" y2="573.50" stroke="#000" />
<line x1="109.50" y1="562.50" x2="121.00" y2="562.50" stroke="#000" />
<line x1="619.50" y1="562.50" x2="608.00" y2="562.50" stroke="#000" />
<line x1="109.50" y1="551.50" x2="116.00" y2="551.50" stroke="#000" />
<line x1="619.50" y1="551.50" x2="613.00" y2="551.50" stroke="#000" />
<line x1="109.50" y1="540.50" x2="116.00" y2="540.50" stroke="#000" />
<line x1="619.50" y1="540.50" x2="613.00" y2="540.50" stroke="#000" />
<line x1="109.50" y1="528.50" x2="116.00" y2="528.50" stroke="#000" />
<line x1="619.50" y1="528.50" x2="613.00" y2="528.50" stroke="#000" />
<line x1="109.50" y1="517.50" x2="121.00" y2="517.50" stroke="#000" />
<line x1="619.50" y1="517.50" x2="608.00" y2="517.50" stroke="#000" />
<line x1="109.50" y1="506.50" x2="116.00" y2="506.50" stroke="#000" />
<line x1="619.50" y1="506.50" x2="613.00" y2="506.50" stroke="#000" />
<line x1="109.50" y1="495.50" x2="116.00" y2="495.50" stroke="#000" />
<line x1="619.50" y1="495.50" x2="613.00" y2="495.50" stroke="#000" />
<line x1="109.50" y1="484.50" x2="116.00" y2="484.50" stroke="#000" />
<line x1="619.50" y1="484.50" x2="613.00" y2="484.50" stroke="#000" />
<line x1="109.50" y1="473.50" x2="121.00" y2="473.50" stroke="#000" />
<line x1="619.50" y1="473.50" x2="608.00" y2="473.50" stroke="#000" />
<line x1="109.50" y1="462.50" x2="116.00" y2="462.50" stroke="#000" />
<line x1="619.50" y1="462.50" x2="613.00" y2="462.50" stroke="#000" />
<line x1="109.50" y1="451.50" x2="116.00" y2="451.50" stroke="#000" />
<line x1="619.50" y1="451.50" x2="613.00" y2="451.50" stroke="#000" />
<line x1="109.50" y1="440.50" x2="116.00" y2="440.50" stroke="#000" />
<line x1="619.50" y1="440.50" x2="613.00" y2="440.50" stroke="#000" />
<line x1="109.50" y1="777.50" x2="116.00" y2="777.50" stroke="#000" />
<line x1="619.50" y1="777.50" x2="613.00" y2="777.50" stroke="#000" />
<line x1="109.50" y1="769.50" x2="116.00" y2="769.50" stroke="#000" />
<line x1="619.50" y1="769.50" x2="613.00" y2="769.50" stroke="#000" />
<line x1="109.50" y1="762.50" x2="116.00" y2="762.50" stroke="#000" />
<line x1="619.50" y1="762.50" x2="613.00" y2="762.50" stroke="#000" />
<line x1="109.50" y1="754.50" x2="121.00" y2="754.50" stroke="#000" />
<line x1="619.50" y1="754.50" x2="608.00" y2="754.50" stroke="#000" />
<line x1="109.50" y1="747.50" x2="116.00" y2="747.50" stroke="#000" />
<line x1="619.50" y1="747.50" x2="613.00" y2="747.50" stroke="#000" />
<line x1="109.50" y1="740.50" x2="116.00" y2="740.50" stroke="#000" />
<line x1="619.50" y1="740.50" x2="613.00" y2="740.50" stroke="#000" />
<line x1="109.50" y1="732.50" x2="116.00" y2="732.50" stroke="#000" />
<line x1="619.50" y1="732.50" x2="613.00" y2="732.50" stroke="#000" />
<line x1="109.50" y1="725.50" x2="121.00" y2="725.50" stroke="#000" />
<line x1="619.50" y1="725.50" x2="608.00" y2="725.50" stroke="#000" />
<line x1="109.50" y1="717.50" x2="116.00" y2="717.50" stroke="#000" />
<line x1="619.50" y1="717.50" x2="613.00" y2="717.50" stroke="#000" />
<line x1="109.50" y1="710.50" x2="116.00" y2="710.50" stroke="#000" />
<line x1="619.50" y1="710.50" x2="613.00" y2="710.50" stroke="#000" />
<line x1="109.50" y1="703.50" x2="116.00" y2="703.50" stroke="#000" />
<line x1="619.50" y1="703.50" x2="613.00" y2="703.50" stroke="#000" />
<line x1="109.50" y1="695.50" x2="121.00" y2="695.50" stroke="#000" />
<line x1="619.50" y1="695.50" x2="608.00" y2="695.50" stroke="#000" />
<line x1="109.50" y1="688.50" x2="116.00" y2="688.50" stroke="#000" />
<line x1="619.50" y1="688.50" x2="613.00" y2="688.50" stroke="#000" />
<line x1="109.50" y1="680.50" x2="116.00" y2="680.50" stroke="#000" />
<line x1="619.50" y1="680.50" x2="613.00" y2="680.50" stroke="#000" />
<line x1="109.50" y1="673.50" x2="116.00" y2="673.50" stroke="#000" />
<line x1="619.50" y1="673.50" x2="613.00" y2="673.50" stroke="#000" />
<line x1="109.50" y1="666.50" x2="121.00" y2="666.50" stroke="#000" />
<line x1="619.50" y1="666.50" x2="608.00" y2="666.50" stroke="#000" />
<line x1="109.50" y1="658.50" x2="116.00" y2="658.50" stroke="#000" />
<line x1="619.50" y1="658.50" x2="613.00" y2="658.50" stroke="#000" />
<line x1="109.50" y1="651.50" x2="116.00" y2="651.50" stroke="#000" />
<line x1="619.50" y1="651.50" x2="613.00" y2="651.50" stroke="#000" />
<line x1="109.50" y1="643.50" x2="116.00" y2="643.50" stroke="#000" />
<line x1="619.50" y1="643.50" x2="613.00" y2="643.50" stroke="#000" />
<line x1="109.50" y1="636.50" x2="121.00" y2="636.50" stroke="#000" />
<line x1="619.50" y1="636.50" x2="608.00" y2="636.50" stroke="#000" />
<line x1="109.50" y1="629.50" x2="116.00" y2="629.50" stroke="#000" />
<line x1="619.50" y1="629.50" x2="613.00" y2="629.50" stroke="#000" />
<line x1="109.50" y1="621.50" x2="116.00" y2="621.50" stroke="#000" />
<line x1="619.50" y1="621.50" x2="613.00" y2="621.50" stroke="#000" />
<line x1="109.50" y1="614.50" x2="116.00" y2="614.50" stroke="#000" />
<line x1="619.50" y1="614.50" x2="613.00" y2="614.50" stroke="#000" />
</g>
<g font-family="'Liberation Sans', sans-serif" fill="#000" stroke="#000" stroke-width="0.1">
<text x="84.75" y="250.50" font-size="11.5" text-anchor="start" textLength="20.95" lengthAdjust="spacingAndGlyphs" >450</text>
<text x="84.75" y="211.50" font-size="11.5" text-anchor="start" textLength="20.95" lengthAdjust="spacingAndGlyphs" >500</text>
<text x="84.75" y="167.00" font-size="11.5" text-anchor="start" textLength="20.95" lengthAdjust="spacingAndGlyphs" >550</text>
<text x="84.75" y="122.50" font-size="11.5" text-anchor="start" textLength="20.95" lengthAdjust="spacingAndGlyphs" >600</text>
<text x="84.75" y="81.70" font-size="11.5" text-anchor="start" textLength="20.95" lengthAdjust="spacingAndGlyphs" >650</text>
<text x="74.45" y="427.50" font-size="11.5" text-anchor="start" textLength="9.60" lengthAdjust="spacingAndGlyphs" >−</text>
<text x="84.75" y="427.50" font-size="11.5" text-anchor="start" textLength="20.95" lengthAdjust="spacingAndGlyphs" >650</text>
<text x="74.45" y="388.75" font-size="11.5" text-anchor="start" textLength="9.60" lengthAdjust="spacingAndGlyphs" >−</text>
<text x="84.75" y="388.75" font-size="11.5" text-anchor="start" textLength="20.95" lengthAdjust="spacingAndGlyphs" >600</text>
<text x="74.45" y="344.50" font-size="11.5" text-anchor="start" textLength="9.60" lengthAdjust="spacingAndGlyphs" >−</text>
<text x="84.75" y="344.50" font-size="11.5" text-anchor="start" textLength="20.95" lengthAdjust="spacingAndGlyphs" >550</text>
<text x="74.45" y="300.25" font-size="11.5" text-anchor="start" textLength="9.60" lengthAdjust="spacingAndGlyphs" >−</text>
<text x="84.75" y="300.25" font-size="11.5" text-anchor="start" textLength="20.95" lengthAdjust="spacingAndGlyphs" >500</text>
<text x="74.45" y="259.70" font-size="11.5" text-anchor="start" textLength="9.60" lengthAdjust="spacingAndGlyphs" >−</text>
<text x="84.75" y="259.70" font-size="11.5" text-anchor="start" textLength="20.95" lengthAdjust="spacingAndGlyphs" >450</text>
<text x="81.60" y="605.50" font-size="11.5" text-anchor="start" textLength="9.60" lengthAdjust="spacingAndGlyphs" >−</text>
<text x="91.90" y="605.50" font-size="11.5" text-anchor="start" textLength="13.80" lengthAdjust="spacingAndGlyphs" >20</text>
<text x="99.05" y="566.50" font-size="11.5" text-anchor="start" textLength="6.65" lengthAdjust="spacingAndGlyphs" >0</text>
<text x="91.90" y="522.00" font-size="11.5" text-anchor="start" textLength="13.80" lengthAdjust="spacingAndGlyphs" >20</text>
<text x="91.90" y="477.50" font-size="11.5" text-anchor="start" textLength="13.80" lengthAdjust="spacingAndGlyphs" >40</text>
<text x="91.90" y="436.70" font-size="11.5" text-anchor="start" textLength="13.80" lengthAdjust="spacingAndGlyphs" >60</text>
<text x="81.60" y="783.50" font-size="11.5" text-anchor="start" textLength="9.60" lengthAdjust="spacingAndGlyphs" >−</text>
<text x="91.90" y="783.50" font-size="11.5" text-anchor="start" textLength="13.80" lengthAdjust="spacingAndGlyphs" >40</text>
<text x="81.60" y="759.33" font-size="11.5" text-anchor="start" textLength="9.60" lengthAdjust="spacingAndGlyphs" >−</text>
<text x="91.90" y="759.33" font-size="11.5" text-anchor="start" textLength="13.80" lengthAdjust="spacingAndGlyphs" >20</text>
<text x="99.05" y="729.67" font-size="11.5" text-anchor="start" textLength="6.65" lengthAdjust="spacingAndGlyphs" >0</text>
<text x="91.90" y="700.00" font-size="11.5" text-anchor="start" textLength="13.80" lengthAdjust="spacingAndGlyphs" >20</text>
<text x="91.90" y="670.33" font-size="11.5" text-anchor="start" textLength="13.80" lengthAdjust="spacingAndGlyphs" >40</text>
<text x="91.90" y="640.67" font-size="11.5" text-anchor="start" textLength="13.80" lengthAdjust="spacingAndGlyphs" >60</text>
<text x="91.90" y="614.70" font-size="11.5" text-anchor="start" textLength="13.80" lengthAdjust="spacingAndGlyphs" >80</text>
<text x="97.70" y="68.00" font-size="11.5" text-anchor="start" textLength="9.60" lengthAdjust="spacingAndGlyphs" >−</text>
<text x="108.00" y="68.00" font-size="11.5" text-anchor="start" textLength="13.80" lengthAdjust="spacingAndGlyphs" >20</text>
<text x="225.01" y="68.00" font-size="11.5" text-anchor="start" textLength="9.60" lengthAdjust="spacingAndGlyphs" >−</text>
<text x="235.31" y="68.00" font-size="11.5" text-anchor="start" textLength="13.80" lengthAdjust="spacingAndGlyphs" >10</text>
<text x="361.05" y="68.00" font-size="11.5" text-anchor="start" textLength="6.65" lengthAdjust="spacingAndGlyphs" >0</text>
<text x="484.78" y="68.00" font-size="11.5" text-anchor="start" textLength="13.80" lengthAdjust="spacingAndGlyphs" >10</text>
<text x="612.09" y="68.00" font-size="11.5" text-anchor="start" textLength="13.80" lengthAdjust="spacingAndGlyphs" >20</text>
<text x="94.70" y="802.00" font-size="11.5" text-anchor="start" textLength="31.90" lengthAdjust="spacingAndGlyphs" >17.28</text>
<text x="222.01" y="802.00" font-size="11.5" text-anchor="start" textLength="31.90" lengthAdjust="spacingAndGlyphs" >17.29</text>
<text x="349.32" y="802.00" font-size="11.5" text-anchor="start" textLength="31.90" lengthAdjust="spacingAndGlyphs" >17.30</text>
<text x="476.63" y="802.00" font-size="11.5" text-anchor="start" textLength="31.90" lengthAdjust="spacingAndGlyphs" >17.31</text>
<text x="603.94" y="802.00" font-size="11.5" text-anchor="start" textLength="31.90" lengthAdjust="spacingAndGlyphs" >17.32</text>
<text x="284.00" y="57.00" font-size="12.5" text-anchor="start" textLength="27.00" lengthAdjust="spacingAndGlyphs" >Time</text>
<text x="317.00" y="57.00" font-size="12.5" text-anchor="start" textLength="26.50" lengthAdjust="spacingAndGlyphs" >from</text>
<text x="350.25" y="57.00" font-size="12.5" text-anchor="start" textLength="33.50" lengthAdjust="spacingAndGlyphs" >Shock</text>
<text x="390.75" y="57.00" font-size="12.5" text-anchor="start" textLength="53.50" lengthAdjust="spacingAndGlyphs" >[Minutes]</text>
<text x="327.00" y="816.30" font-size="12.5" text-anchor="start" textLength="19.75" lengthAdjust="spacingAndGlyphs" >Day</text>
<text x="354.50" y="816.30" font-size="12.5" text-anchor="start" textLength="11.50" lengthAdjust="spacingAndGlyphs" >of</text>
<text x="372.00" y="816.30" font-size="12.5" text-anchor="start" textLength="28.50" lengthAdjust="spacingAndGlyphs" >2005</text>
<text x="74.20" y="192.30" font-size="12.5" text-anchor="start" textLength="12.10" lengthAdjust="spacingAndGlyphs" transform="rotate(-90 74.20 192.30)" >|V|</text>
<text x="74.20" y="174.00" font-size="12.5" text-anchor="start" textLength="42.60" lengthAdjust="spacingAndGlyphs" transform="rotate(-90 74.20 174.00)" >[km/s]</text>
<text x="63.80" y="369.30" font-size="13.5" text-anchor="start" textLength="7.00" lengthAdjust="spacingAndGlyphs" transform="rotate(-90 63.80 369.30)" >v</text>
<text x="67.20" y="361.60" font-size="6.5" text-anchor="start" textLength="3.20" lengthAdjust="spacingAndGlyphs" transform="rotate(-90 67.20 361.60)" stroke-width="0.35">x</text>
<text x="64.60" y="352.70" font-size="12.5" text-anchor="start" textLength="42.30" lengthAdjust="spacingAndGlyphs" transform="rotate(-90 64.60 352.70)" >[km/s]</text>
<text x="71.20" y="547.40" font-size="13.5" text-anchor="start" textLength="7.00" lengthAdjust="spacingAndGlyphs" transform="rotate(-90 71.20 547.40)" >v</text>
<text x="74.60" y="539.70" font-size="6.5" text-anchor="start" textLength="3.20" lengthAdjust="spacingAndGlyphs" transform="rotate(-90 74.60 539.70)" stroke-width="0.35">y</text>
<text x="72.00" y="530.80" font-size="12.5" text-anchor="start" textLength="41.90" lengthAdjust="spacingAndGlyphs" transform="rotate(-90 72.00 530.80)" >[km/s]</text>
<text x="70.80" y="725.60" font-size="13.5" text-anchor="start" textLength="7.00" lengthAdjust="spacingAndGlyphs" transform="rotate(-90 70.80 725.60)" >v</text>
<text x="74.20" y="717.90" font-size="6.5" text-anchor="start" textLength="3.20" lengthAdjust="spacingAndGlyphs" transform="rotate(-90 74.20 717.90)" stroke-width="0.35">z</text>
<text x="71.60" y="709.00" font-size="12.5" text-anchor="start" textLength="42.40" lengthAdjust="spacingAndGlyphs" transform="rotate(-90 71.60 709.00)" >[km/s]</text>
<text x="635.00" y="726.00" font-size="9.6" text-anchor="start" textLength="14.70" lengthAdjust="spacingAndGlyphs" transform="rotate(-90 635.00 726.00)" stroke-width="0.25">Tue</text>
<text x="635.00" y="706.90" font-size="9.6" text-anchor="start" textLength="15.60" lengthAdjust="spacingAndGlyphs" transform="rotate(-90 635.00 706.90)" stroke-width="0.25">Sep</text>
<text x="635.00" y="683.20" font-size="9.6" text-anchor="start" textLength="9.20" lengthAdjust="spacingAndGlyphs" transform="rotate(-90 635.00 683.20)" stroke-width="0.25">24</text>
<text x="635.00" y="668.70" font-size="9.6" text-anchor="start" textLength="35.60" lengthAdjust="spacingAndGlyphs" transform="rotate(-90 635.00 668.70)" stroke-width="0.25">15:46:36</text>
<text x="635.00" y="626.90" font-size="9.6" text-anchor="start" textLength="21.90" lengthAdjust="spacingAndGlyphs" transform="rotate(-90 635.00 626.90)" stroke-width="0.25">2013</text>
<text x="635.00" y="596.00" font-size="9.6" text-anchor="start" textLength="15.50" lengthAdjust="spacingAndGlyphs" transform="rotate(-90 635.00 596.00)" stroke-width="0.25">J.C.</text>
<text x="635.00" y="577.00" font-size="9.6" text-anchor="start" textLength="25.70" lengthAdjust="spacingAndGlyphs" transform="rotate(-90 635.00 577.00)" stroke-width="0.25">Kasper</text>
<text x="635.00" y="546.30" font-size="9.6" text-anchor="start" textLength="116.30" lengthAdjust="spacingAndGlyphs" transform="rotate(-90 635.00 546.30)" stroke-width="0.25">(jkasper@cfa.harvard.edu)</text>
<text x="635.00" y="419.10" font-size="9.6" text-anchor="start" textLength="18.90" lengthAdjust="spacingAndGlyphs" transform="rotate(-90 635.00 419.10)" stroke-width="0.25">S/C:</text>
<text x="635.00" y="394.40" font-size="9.6" text-anchor="start" textLength="15.50" lengthAdjust="spacingAndGlyphs" transform="rotate(-90 635.00 394.40)" stroke-width="0.25">Wind</text>
<text x="635.00" y="374.00" font-size="9.6" text-anchor="start" textLength="13.00" lengthAdjust="spacingAndGlyphs" transform="rotate(-90 635.00 374.00)" stroke-width="0.25">ID:</text>
<text x="635.00" y="356.10" font-size="9.6" text-anchor="start" textLength="26.60" lengthAdjust="spacingAndGlyphs" transform="rotate(-90 635.00 356.10)" stroke-width="0.25">00003</text>
<text x="635.00" y="324.50" font-size="9.6" text-anchor="start" textLength="55.70" lengthAdjust="spacingAndGlyphs" transform="rotate(-90 635.00 324.50)" stroke-width="0.25">01/17/2005</text>
<text x="635.00" y="258.70" font-size="9.6" text-anchor="start" textLength="21.50" lengthAdjust="spacingAndGlyphs" transform="rotate(-90 635.00 258.70)" stroke-width="0.25">0715</text>
<text x="635.00" y="231.50" font-size="9.6" text-anchor="start" textLength="10.40" lengthAdjust="spacingAndGlyphs" transform="rotate(-90 635.00 231.50)" stroke-width="0.25">UT</text>
<text x="635.00" y="217.80" font-size="9.6" text-anchor="start" textLength="18.90" lengthAdjust="spacingAndGlyphs" transform="rotate(-90 635.00 217.80)" stroke-width="0.25">Data</text>
<text x="635.00" y="193.90" font-size="9.6" text-anchor="start" textLength="38.40" lengthAdjust="spacingAndGlyphs" transform="rotate(-90 635.00 193.90)" stroke-width="0.25">Selection</text>
</g>
</svg>
</body></html>
